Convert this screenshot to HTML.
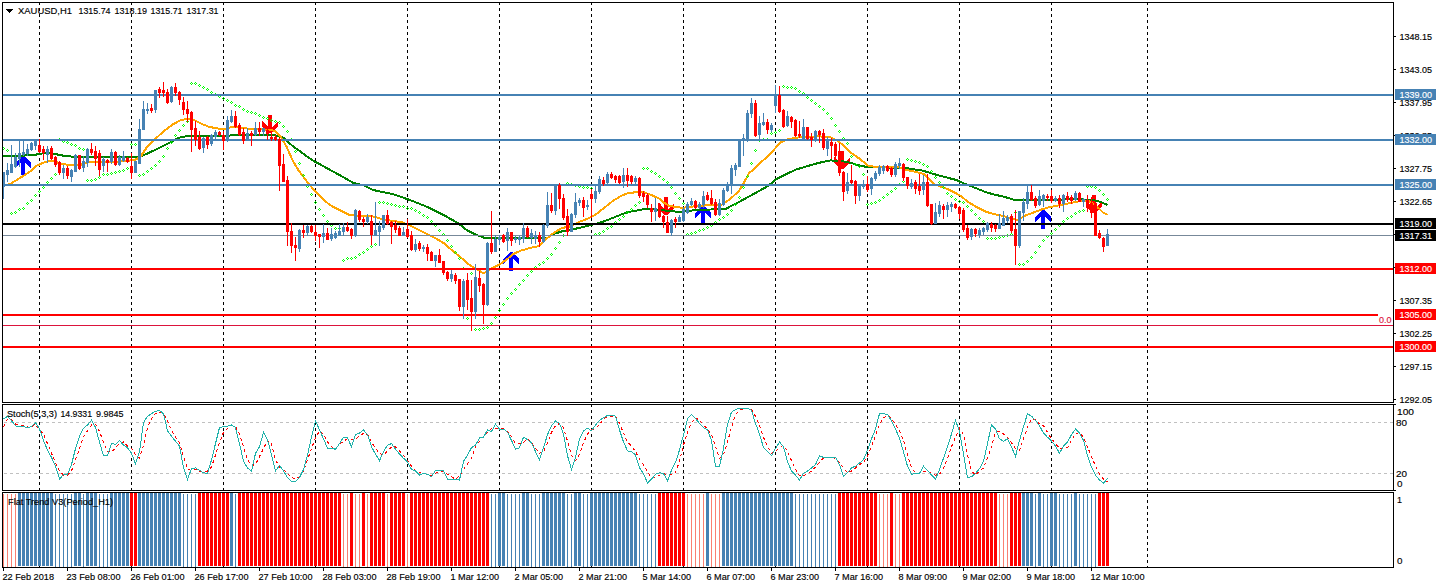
<!DOCTYPE html>
<html><head><meta charset="utf-8"><style>
html,body{margin:0;padding:0;background:#fff;}
svg{display:block;}
text{font-family:"Liberation Sans", sans-serif;}
</style></head><body>
<svg width="1436" height="588" viewBox="0 0 1436 588" shape-rendering="crispEdges">
<rect x="0" y="0" width="1436" height="588" fill="#fff"/>
<path d="M39.5 3v2M39.5 8v3M39.5 14v3M39.5 20v3M39.5 26v3M39.5 32v3M39.5 38v3M39.5 44v3M39.5 50v3M39.5 56v3M39.5 62v3M39.5 68v3M39.5 74v3M39.5 80v3M39.5 86v3M39.5 92v3M39.5 98v3M39.5 104v3M39.5 110v3M39.5 116v3M39.5 122v3M39.5 128v3M39.5 134v3M39.5 140v3M39.5 146v3M39.5 152v3M39.5 158v3M39.5 164v3M39.5 170v3M39.5 176v3M39.5 182v3M39.5 188v3M39.5 194v3M39.5 200v3M39.5 206v3M39.5 212v3M39.5 218v3M39.5 224v3M39.5 230v3M39.5 236v3M39.5 242v3M39.5 248v3M39.5 254v3M39.5 260v3M39.5 266v3M39.5 272v3M39.5 278v3M39.5 284v3M39.5 290v3M39.5 296v3M39.5 302v3M39.5 308v3M39.5 314v3M39.5 320v3M39.5 326v3M39.5 332v3M39.5 338v3M39.5 344v3M39.5 350v3M39.5 356v3M39.5 362v3M39.5 368v3M39.5 374v3M39.5 380v3M39.5 386v3M39.5 392v3M39.5 398v3" stroke="#000" stroke-width="1" fill="none"/>
<path d="M131.5 3v2M131.5 8v3M131.5 14v3M131.5 20v3M131.5 26v3M131.5 32v3M131.5 38v3M131.5 44v3M131.5 50v3M131.5 56v3M131.5 62v3M131.5 68v3M131.5 74v3M131.5 80v3M131.5 86v3M131.5 92v3M131.5 98v3M131.5 104v3M131.5 110v3M131.5 116v3M131.5 122v3M131.5 128v3M131.5 134v3M131.5 140v3M131.5 146v3M131.5 152v3M131.5 158v3M131.5 164v3M131.5 170v3M131.5 176v3M131.5 182v3M131.5 188v3M131.5 194v3M131.5 200v3M131.5 206v3M131.5 212v3M131.5 218v3M131.5 224v3M131.5 230v3M131.5 236v3M131.5 242v3M131.5 248v3M131.5 254v3M131.5 260v3M131.5 266v3M131.5 272v3M131.5 278v3M131.5 284v3M131.5 290v3M131.5 296v3M131.5 302v3M131.5 308v3M131.5 314v3M131.5 320v3M131.5 326v3M131.5 332v3M131.5 338v3M131.5 344v3M131.5 350v3M131.5 356v3M131.5 362v3M131.5 368v3M131.5 374v3M131.5 380v3M131.5 386v3M131.5 392v3M131.5 398v3" stroke="#000" stroke-width="1" fill="none"/>
<path d="M223.5 3v2M223.5 8v3M223.5 14v3M223.5 20v3M223.5 26v3M223.5 32v3M223.5 38v3M223.5 44v3M223.5 50v3M223.5 56v3M223.5 62v3M223.5 68v3M223.5 74v3M223.5 80v3M223.5 86v3M223.5 92v3M223.5 98v3M223.5 104v3M223.5 110v3M223.5 116v3M223.5 122v3M223.5 128v3M223.5 134v3M223.5 140v3M223.5 146v3M223.5 152v3M223.5 158v3M223.5 164v3M223.5 170v3M223.5 176v3M223.5 182v3M223.5 188v3M223.5 194v3M223.5 200v3M223.5 206v3M223.5 212v3M223.5 218v3M223.5 224v3M223.5 230v3M223.5 236v3M223.5 242v3M223.5 248v3M223.5 254v3M223.5 260v3M223.5 266v3M223.5 272v3M223.5 278v3M223.5 284v3M223.5 290v3M223.5 296v3M223.5 302v3M223.5 308v3M223.5 314v3M223.5 320v3M223.5 326v3M223.5 332v3M223.5 338v3M223.5 344v3M223.5 350v3M223.5 356v3M223.5 362v3M223.5 368v3M223.5 374v3M223.5 380v3M223.5 386v3M223.5 392v3M223.5 398v3" stroke="#000" stroke-width="1" fill="none"/>
<path d="M315.5 3v2M315.5 8v3M315.5 14v3M315.5 20v3M315.5 26v3M315.5 32v3M315.5 38v3M315.5 44v3M315.5 50v3M315.5 56v3M315.5 62v3M315.5 68v3M315.5 74v3M315.5 80v3M315.5 86v3M315.5 92v3M315.5 98v3M315.5 104v3M315.5 110v3M315.5 116v3M315.5 122v3M315.5 128v3M315.5 134v3M315.5 140v3M315.5 146v3M315.5 152v3M315.5 158v3M315.5 164v3M315.5 170v3M315.5 176v3M315.5 182v3M315.5 188v3M315.5 194v3M315.5 200v3M315.5 206v3M315.5 212v3M315.5 218v3M315.5 224v3M315.5 230v3M315.5 236v3M315.5 242v3M315.5 248v3M315.5 254v3M315.5 260v3M315.5 266v3M315.5 272v3M315.5 278v3M315.5 284v3M315.5 290v3M315.5 296v3M315.5 302v3M315.5 308v3M315.5 314v3M315.5 320v3M315.5 326v3M315.5 332v3M315.5 338v3M315.5 344v3M315.5 350v3M315.5 356v3M315.5 362v3M315.5 368v3M315.5 374v3M315.5 380v3M315.5 386v3M315.5 392v3M315.5 398v3" stroke="#000" stroke-width="1" fill="none"/>
<path d="M407.5 3v2M407.5 8v3M407.5 14v3M407.5 20v3M407.5 26v3M407.5 32v3M407.5 38v3M407.5 44v3M407.5 50v3M407.5 56v3M407.5 62v3M407.5 68v3M407.5 74v3M407.5 80v3M407.5 86v3M407.5 92v3M407.5 98v3M407.5 104v3M407.5 110v3M407.5 116v3M407.5 122v3M407.5 128v3M407.5 134v3M407.5 140v3M407.5 146v3M407.5 152v3M407.5 158v3M407.5 164v3M407.5 170v3M407.5 176v3M407.5 182v3M407.5 188v3M407.5 194v3M407.5 200v3M407.5 206v3M407.5 212v3M407.5 218v3M407.5 224v3M407.5 230v3M407.5 236v3M407.5 242v3M407.5 248v3M407.5 254v3M407.5 260v3M407.5 266v3M407.5 272v3M407.5 278v3M407.5 284v3M407.5 290v3M407.5 296v3M407.5 302v3M407.5 308v3M407.5 314v3M407.5 320v3M407.5 326v3M407.5 332v3M407.5 338v3M407.5 344v3M407.5 350v3M407.5 356v3M407.5 362v3M407.5 368v3M407.5 374v3M407.5 380v3M407.5 386v3M407.5 392v3M407.5 398v3" stroke="#000" stroke-width="1" fill="none"/>
<path d="M499.5 3v2M499.5 8v3M499.5 14v3M499.5 20v3M499.5 26v3M499.5 32v3M499.5 38v3M499.5 44v3M499.5 50v3M499.5 56v3M499.5 62v3M499.5 68v3M499.5 74v3M499.5 80v3M499.5 86v3M499.5 92v3M499.5 98v3M499.5 104v3M499.5 110v3M499.5 116v3M499.5 122v3M499.5 128v3M499.5 134v3M499.5 140v3M499.5 146v3M499.5 152v3M499.5 158v3M499.5 164v3M499.5 170v3M499.5 176v3M499.5 182v3M499.5 188v3M499.5 194v3M499.5 200v3M499.5 206v3M499.5 212v3M499.5 218v3M499.5 224v3M499.5 230v3M499.5 236v3M499.5 242v3M499.5 248v3M499.5 254v3M499.5 260v3M499.5 266v3M499.5 272v3M499.5 278v3M499.5 284v3M499.5 290v3M499.5 296v3M499.5 302v3M499.5 308v3M499.5 314v3M499.5 320v3M499.5 326v3M499.5 332v3M499.5 338v3M499.5 344v3M499.5 350v3M499.5 356v3M499.5 362v3M499.5 368v3M499.5 374v3M499.5 380v3M499.5 386v3M499.5 392v3M499.5 398v3" stroke="#000" stroke-width="1" fill="none"/>
<path d="M591.5 3v2M591.5 8v3M591.5 14v3M591.5 20v3M591.5 26v3M591.5 32v3M591.5 38v3M591.5 44v3M591.5 50v3M591.5 56v3M591.5 62v3M591.5 68v3M591.5 74v3M591.5 80v3M591.5 86v3M591.5 92v3M591.5 98v3M591.5 104v3M591.5 110v3M591.5 116v3M591.5 122v3M591.5 128v3M591.5 134v3M591.5 140v3M591.5 146v3M591.5 152v3M591.5 158v3M591.5 164v3M591.5 170v3M591.5 176v3M591.5 182v3M591.5 188v3M591.5 194v3M591.5 200v3M591.5 206v3M591.5 212v3M591.5 218v3M591.5 224v3M591.5 230v3M591.5 236v3M591.5 242v3M591.5 248v3M591.5 254v3M591.5 260v3M591.5 266v3M591.5 272v3M591.5 278v3M591.5 284v3M591.5 290v3M591.5 296v3M591.5 302v3M591.5 308v3M591.5 314v3M591.5 320v3M591.5 326v3M591.5 332v3M591.5 338v3M591.5 344v3M591.5 350v3M591.5 356v3M591.5 362v3M591.5 368v3M591.5 374v3M591.5 380v3M591.5 386v3M591.5 392v3M591.5 398v3" stroke="#000" stroke-width="1" fill="none"/>
<path d="M683.5 3v2M683.5 8v3M683.5 14v3M683.5 20v3M683.5 26v3M683.5 32v3M683.5 38v3M683.5 44v3M683.5 50v3M683.5 56v3M683.5 62v3M683.5 68v3M683.5 74v3M683.5 80v3M683.5 86v3M683.5 92v3M683.5 98v3M683.5 104v3M683.5 110v3M683.5 116v3M683.5 122v3M683.5 128v3M683.5 134v3M683.5 140v3M683.5 146v3M683.5 152v3M683.5 158v3M683.5 164v3M683.5 170v3M683.5 176v3M683.5 182v3M683.5 188v3M683.5 194v3M683.5 200v3M683.5 206v3M683.5 212v3M683.5 218v3M683.5 224v3M683.5 230v3M683.5 236v3M683.5 242v3M683.5 248v3M683.5 254v3M683.5 260v3M683.5 266v3M683.5 272v3M683.5 278v3M683.5 284v3M683.5 290v3M683.5 296v3M683.5 302v3M683.5 308v3M683.5 314v3M683.5 320v3M683.5 326v3M683.5 332v3M683.5 338v3M683.5 344v3M683.5 350v3M683.5 356v3M683.5 362v3M683.5 368v3M683.5 374v3M683.5 380v3M683.5 386v3M683.5 392v3M683.5 398v3" stroke="#000" stroke-width="1" fill="none"/>
<path d="M775.5 3v2M775.5 8v3M775.5 14v3M775.5 20v3M775.5 26v3M775.5 32v3M775.5 38v3M775.5 44v3M775.5 50v3M775.5 56v3M775.5 62v3M775.5 68v3M775.5 74v3M775.5 80v3M775.5 86v3M775.5 92v3M775.5 98v3M775.5 104v3M775.5 110v3M775.5 116v3M775.5 122v3M775.5 128v3M775.5 134v3M775.5 140v3M775.5 146v3M775.5 152v3M775.5 158v3M775.5 164v3M775.5 170v3M775.5 176v3M775.5 182v3M775.5 188v3M775.5 194v3M775.5 200v3M775.5 206v3M775.5 212v3M775.5 218v3M775.5 224v3M775.5 230v3M775.5 236v3M775.5 242v3M775.5 248v3M775.5 254v3M775.5 260v3M775.5 266v3M775.5 272v3M775.5 278v3M775.5 284v3M775.5 290v3M775.5 296v3M775.5 302v3M775.5 308v3M775.5 314v3M775.5 320v3M775.5 326v3M775.5 332v3M775.5 338v3M775.5 344v3M775.5 350v3M775.5 356v3M775.5 362v3M775.5 368v3M775.5 374v3M775.5 380v3M775.5 386v3M775.5 392v3M775.5 398v3" stroke="#000" stroke-width="1" fill="none"/>
<path d="M867.5 3v2M867.5 8v3M867.5 14v3M867.5 20v3M867.5 26v3M867.5 32v3M867.5 38v3M867.5 44v3M867.5 50v3M867.5 56v3M867.5 62v3M867.5 68v3M867.5 74v3M867.5 80v3M867.5 86v3M867.5 92v3M867.5 98v3M867.5 104v3M867.5 110v3M867.5 116v3M867.5 122v3M867.5 128v3M867.5 134v3M867.5 140v3M867.5 146v3M867.5 152v3M867.5 158v3M867.5 164v3M867.5 170v3M867.5 176v3M867.5 182v3M867.5 188v3M867.5 194v3M867.5 200v3M867.5 206v3M867.5 212v3M867.5 218v3M867.5 224v3M867.5 230v3M867.5 236v3M867.5 242v3M867.5 248v3M867.5 254v3M867.5 260v3M867.5 266v3M867.5 272v3M867.5 278v3M867.5 284v3M867.5 290v3M867.5 296v3M867.5 302v3M867.5 308v3M867.5 314v3M867.5 320v3M867.5 326v3M867.5 332v3M867.5 338v3M867.5 344v3M867.5 350v3M867.5 356v3M867.5 362v3M867.5 368v3M867.5 374v3M867.5 380v3M867.5 386v3M867.5 392v3M867.5 398v3" stroke="#000" stroke-width="1" fill="none"/>
<path d="M959.5 3v2M959.5 8v3M959.5 14v3M959.5 20v3M959.5 26v3M959.5 32v3M959.5 38v3M959.5 44v3M959.5 50v3M959.5 56v3M959.5 62v3M959.5 68v3M959.5 74v3M959.5 80v3M959.5 86v3M959.5 92v3M959.5 98v3M959.5 104v3M959.5 110v3M959.5 116v3M959.5 122v3M959.5 128v3M959.5 134v3M959.5 140v3M959.5 146v3M959.5 152v3M959.5 158v3M959.5 164v3M959.5 170v3M959.5 176v3M959.5 182v3M959.5 188v3M959.5 194v3M959.5 200v3M959.5 206v3M959.5 212v3M959.5 218v3M959.5 224v3M959.5 230v3M959.5 236v3M959.5 242v3M959.5 248v3M959.5 254v3M959.5 260v3M959.5 266v3M959.5 272v3M959.5 278v3M959.5 284v3M959.5 290v3M959.5 296v3M959.5 302v3M959.5 308v3M959.5 314v3M959.5 320v3M959.5 326v3M959.5 332v3M959.5 338v3M959.5 344v3M959.5 350v3M959.5 356v3M959.5 362v3M959.5 368v3M959.5 374v3M959.5 380v3M959.5 386v3M959.5 392v3M959.5 398v3" stroke="#000" stroke-width="1" fill="none"/>
<path d="M1051.5 3v2M1051.5 8v3M1051.5 14v3M1051.5 20v3M1051.5 26v3M1051.5 32v3M1051.5 38v3M1051.5 44v3M1051.5 50v3M1051.5 56v3M1051.5 62v3M1051.5 68v3M1051.5 74v3M1051.5 80v3M1051.5 86v3M1051.5 92v3M1051.5 98v3M1051.5 104v3M1051.5 110v3M1051.5 116v3M1051.5 122v3M1051.5 128v3M1051.5 134v3M1051.5 140v3M1051.5 146v3M1051.5 152v3M1051.5 158v3M1051.5 164v3M1051.5 170v3M1051.5 176v3M1051.5 182v3M1051.5 188v3M1051.5 194v3M1051.5 200v3M1051.5 206v3M1051.5 212v3M1051.5 218v3M1051.5 224v3M1051.5 230v3M1051.5 236v3M1051.5 242v3M1051.5 248v3M1051.5 254v3M1051.5 260v3M1051.5 266v3M1051.5 272v3M1051.5 278v3M1051.5 284v3M1051.5 290v3M1051.5 296v3M1051.5 302v3M1051.5 308v3M1051.5 314v3M1051.5 320v3M1051.5 326v3M1051.5 332v3M1051.5 338v3M1051.5 344v3M1051.5 350v3M1051.5 356v3M1051.5 362v3M1051.5 368v3M1051.5 374v3M1051.5 380v3M1051.5 386v3M1051.5 392v3M1051.5 398v3" stroke="#000" stroke-width="1" fill="none"/>
<path d="M1147.5 3v2M1147.5 8v3M1147.5 14v3M1147.5 20v3M1147.5 26v3M1147.5 32v3M1147.5 38v3M1147.5 44v3M1147.5 50v3M1147.5 56v3M1147.5 62v3M1147.5 68v3M1147.5 74v3M1147.5 80v3M1147.5 86v3M1147.5 92v3M1147.5 98v3M1147.5 104v3M1147.5 110v3M1147.5 116v3M1147.5 122v3M1147.5 128v3M1147.5 134v3M1147.5 140v3M1147.5 146v3M1147.5 152v3M1147.5 158v3M1147.5 164v3M1147.5 170v3M1147.5 176v3M1147.5 182v3M1147.5 188v3M1147.5 194v3M1147.5 200v3M1147.5 206v3M1147.5 212v3M1147.5 218v3M1147.5 224v3M1147.5 230v3M1147.5 236v3M1147.5 242v3M1147.5 248v3M1147.5 254v3M1147.5 260v3M1147.5 266v3M1147.5 272v3M1147.5 278v3M1147.5 284v3M1147.5 290v3M1147.5 296v3M1147.5 302v3M1147.5 308v3M1147.5 314v3M1147.5 320v3M1147.5 326v3M1147.5 332v3M1147.5 338v3M1147.5 344v3M1147.5 350v3M1147.5 356v3M1147.5 362v3M1147.5 368v3M1147.5 374v3M1147.5 380v3M1147.5 386v3M1147.5 392v3M1147.5 398v3" stroke="#000" stroke-width="1" fill="none"/>
<path d="M39.5 405v2M39.5 410v3M39.5 416v3M39.5 422v3M39.5 428v3M39.5 434v3M39.5 440v3M39.5 446v3M39.5 452v3M39.5 458v3M39.5 464v3M39.5 470v3M39.5 476v3M39.5 482v3M39.5 488v2" stroke="#000" stroke-width="1" fill="none"/>
<path d="M131.5 405v2M131.5 410v3M131.5 416v3M131.5 422v3M131.5 428v3M131.5 434v3M131.5 440v3M131.5 446v3M131.5 452v3M131.5 458v3M131.5 464v3M131.5 470v3M131.5 476v3M131.5 482v3M131.5 488v2" stroke="#000" stroke-width="1" fill="none"/>
<path d="M223.5 405v2M223.5 410v3M223.5 416v3M223.5 422v3M223.5 428v3M223.5 434v3M223.5 440v3M223.5 446v3M223.5 452v3M223.5 458v3M223.5 464v3M223.5 470v3M223.5 476v3M223.5 482v3M223.5 488v2" stroke="#000" stroke-width="1" fill="none"/>
<path d="M315.5 405v2M315.5 410v3M315.5 416v3M315.5 422v3M315.5 428v3M315.5 434v3M315.5 440v3M315.5 446v3M315.5 452v3M315.5 458v3M315.5 464v3M315.5 470v3M315.5 476v3M315.5 482v3M315.5 488v2" stroke="#000" stroke-width="1" fill="none"/>
<path d="M407.5 405v2M407.5 410v3M407.5 416v3M407.5 422v3M407.5 428v3M407.5 434v3M407.5 440v3M407.5 446v3M407.5 452v3M407.5 458v3M407.5 464v3M407.5 470v3M407.5 476v3M407.5 482v3M407.5 488v2" stroke="#000" stroke-width="1" fill="none"/>
<path d="M499.5 405v2M499.5 410v3M499.5 416v3M499.5 422v3M499.5 428v3M499.5 434v3M499.5 440v3M499.5 446v3M499.5 452v3M499.5 458v3M499.5 464v3M499.5 470v3M499.5 476v3M499.5 482v3M499.5 488v2" stroke="#000" stroke-width="1" fill="none"/>
<path d="M591.5 405v2M591.5 410v3M591.5 416v3M591.5 422v3M591.5 428v3M591.5 434v3M591.5 440v3M591.5 446v3M591.5 452v3M591.5 458v3M591.5 464v3M591.5 470v3M591.5 476v3M591.5 482v3M591.5 488v2" stroke="#000" stroke-width="1" fill="none"/>
<path d="M683.5 405v2M683.5 410v3M683.5 416v3M683.5 422v3M683.5 428v3M683.5 434v3M683.5 440v3M683.5 446v3M683.5 452v3M683.5 458v3M683.5 464v3M683.5 470v3M683.5 476v3M683.5 482v3M683.5 488v2" stroke="#000" stroke-width="1" fill="none"/>
<path d="M775.5 405v2M775.5 410v3M775.5 416v3M775.5 422v3M775.5 428v3M775.5 434v3M775.5 440v3M775.5 446v3M775.5 452v3M775.5 458v3M775.5 464v3M775.5 470v3M775.5 476v3M775.5 482v3M775.5 488v2" stroke="#000" stroke-width="1" fill="none"/>
<path d="M867.5 405v2M867.5 410v3M867.5 416v3M867.5 422v3M867.5 428v3M867.5 434v3M867.5 440v3M867.5 446v3M867.5 452v3M867.5 458v3M867.5 464v3M867.5 470v3M867.5 476v3M867.5 482v3M867.5 488v2" stroke="#000" stroke-width="1" fill="none"/>
<path d="M959.5 405v2M959.5 410v3M959.5 416v3M959.5 422v3M959.5 428v3M959.5 434v3M959.5 440v3M959.5 446v3M959.5 452v3M959.5 458v3M959.5 464v3M959.5 470v3M959.5 476v3M959.5 482v3M959.5 488v2" stroke="#000" stroke-width="1" fill="none"/>
<path d="M1051.5 405v2M1051.5 410v3M1051.5 416v3M1051.5 422v3M1051.5 428v3M1051.5 434v3M1051.5 440v3M1051.5 446v3M1051.5 452v3M1051.5 458v3M1051.5 464v3M1051.5 470v3M1051.5 476v3M1051.5 482v3M1051.5 488v2" stroke="#000" stroke-width="1" fill="none"/>
<path d="M1147.5 405v2M1147.5 410v3M1147.5 416v3M1147.5 422v3M1147.5 428v3M1147.5 434v3M1147.5 440v3M1147.5 446v3M1147.5 452v3M1147.5 458v3M1147.5 464v3M1147.5 470v3M1147.5 476v3M1147.5 482v3M1147.5 488v2" stroke="#000" stroke-width="1" fill="none"/>
<path d="M39.5 494v3M39.5 500v3M39.5 506v3M39.5 512v3M39.5 518v3M39.5 524v3M39.5 530v3M39.5 536v3M39.5 542v3M39.5 548v3M39.5 554v3M39.5 560v3M39.5 566v1" stroke="#000" stroke-width="1" fill="none"/>
<path d="M131.5 494v3M131.5 500v3M131.5 506v3M131.5 512v3M131.5 518v3M131.5 524v3M131.5 530v3M131.5 536v3M131.5 542v3M131.5 548v3M131.5 554v3M131.5 560v3M131.5 566v1" stroke="#000" stroke-width="1" fill="none"/>
<path d="M223.5 494v3M223.5 500v3M223.5 506v3M223.5 512v3M223.5 518v3M223.5 524v3M223.5 530v3M223.5 536v3M223.5 542v3M223.5 548v3M223.5 554v3M223.5 560v3M223.5 566v1" stroke="#000" stroke-width="1" fill="none"/>
<path d="M315.5 494v3M315.5 500v3M315.5 506v3M315.5 512v3M315.5 518v3M315.5 524v3M315.5 530v3M315.5 536v3M315.5 542v3M315.5 548v3M315.5 554v3M315.5 560v3M315.5 566v1" stroke="#000" stroke-width="1" fill="none"/>
<path d="M407.5 494v3M407.5 500v3M407.5 506v3M407.5 512v3M407.5 518v3M407.5 524v3M407.5 530v3M407.5 536v3M407.5 542v3M407.5 548v3M407.5 554v3M407.5 560v3M407.5 566v1" stroke="#000" stroke-width="1" fill="none"/>
<path d="M499.5 494v3M499.5 500v3M499.5 506v3M499.5 512v3M499.5 518v3M499.5 524v3M499.5 530v3M499.5 536v3M499.5 542v3M499.5 548v3M499.5 554v3M499.5 560v3M499.5 566v1" stroke="#000" stroke-width="1" fill="none"/>
<path d="M591.5 494v3M591.5 500v3M591.5 506v3M591.5 512v3M591.5 518v3M591.5 524v3M591.5 530v3M591.5 536v3M591.5 542v3M591.5 548v3M591.5 554v3M591.5 560v3M591.5 566v1" stroke="#000" stroke-width="1" fill="none"/>
<path d="M683.5 494v3M683.5 500v3M683.5 506v3M683.5 512v3M683.5 518v3M683.5 524v3M683.5 530v3M683.5 536v3M683.5 542v3M683.5 548v3M683.5 554v3M683.5 560v3M683.5 566v1" stroke="#000" stroke-width="1" fill="none"/>
<path d="M775.5 494v3M775.5 500v3M775.5 506v3M775.5 512v3M775.5 518v3M775.5 524v3M775.5 530v3M775.5 536v3M775.5 542v3M775.5 548v3M775.5 554v3M775.5 560v3M775.5 566v1" stroke="#000" stroke-width="1" fill="none"/>
<path d="M867.5 494v3M867.5 500v3M867.5 506v3M867.5 512v3M867.5 518v3M867.5 524v3M867.5 530v3M867.5 536v3M867.5 542v3M867.5 548v3M867.5 554v3M867.5 560v3M867.5 566v1" stroke="#000" stroke-width="1" fill="none"/>
<path d="M959.5 494v3M959.5 500v3M959.5 506v3M959.5 512v3M959.5 518v3M959.5 524v3M959.5 530v3M959.5 536v3M959.5 542v3M959.5 548v3M959.5 554v3M959.5 560v3M959.5 566v1" stroke="#000" stroke-width="1" fill="none"/>
<path d="M1051.5 494v3M1051.5 500v3M1051.5 506v3M1051.5 512v3M1051.5 518v3M1051.5 524v3M1051.5 530v3M1051.5 536v3M1051.5 542v3M1051.5 548v3M1051.5 554v3M1051.5 560v3M1051.5 566v1" stroke="#000" stroke-width="1" fill="none"/>
<path d="M1147.5 494v3M1147.5 500v3M1147.5 506v3M1147.5 512v3M1147.5 518v3M1147.5 524v3M1147.5 530v3M1147.5 536v3M1147.5 542v3M1147.5 548v3M1147.5 554v3M1147.5 560v3M1147.5 566v1" stroke="#000" stroke-width="1" fill="none"/>
<polygon points="22.0,156.0 24.0,156.0 31.0,163.0 31.0,168.5 25.0,162.5 25.0,175.0 21.0,175.0 21.0,162.5 15.0,168.5 15.0,163.0" fill="#0000FF"/>
<polygon points="510.0,252.0 512.0,252.0 519.0,259.0 519.0,264.5 513.0,258.5 513.0,271.0 509.0,271.0 509.0,258.5 503.0,264.5 503.0,259.0" fill="#0000FF"/>
<polygon points="702.0,206.0 704.0,206.0 711.0,213.0 711.0,218.5 705.0,212.5 705.0,225.0 701.0,225.0 701.0,212.5 695.0,218.5 695.0,213.0" fill="#0000FF"/>
<polygon points="1042.0,210.0 1044.0,210.0 1051.0,217.0 1051.0,222.5 1045.0,216.5 1045.0,229.0 1041.0,229.0 1041.0,216.5 1035.0,222.5 1035.0,217.0" fill="#0000FF"/>
<polygon points="268.0,115.0 272.0,115.0 272.0,127.0 278.0,121.0 278.0,126.5 271.0,133.0 269.0,133.0 262.0,126.5 262.0,121.0 268.0,127.0" fill="#FF0000"/>
<polygon points="664.0,197.0 668.0,197.0 668.0,209.0 674.0,203.0 674.0,208.5 667.0,215.0 665.0,215.0 658.0,208.5 658.0,203.0 664.0,209.0" fill="#FF0000"/>
<polygon points="840.0,151.0 844.0,151.0 844.0,163.0 850.0,157.0 850.0,162.5 843.0,169.0 841.0,169.0 834.0,162.5 834.0,157.0 840.0,163.0" fill="#FF0000"/>
<polygon points="1092.0,195.0 1096.0,195.0 1096.0,207.0 1102.0,201.0 1102.0,206.5 1095.0,213.0 1093.0,213.0 1086.0,206.5 1086.0,201.0 1092.0,207.0" fill="#FF0000"/>
<polyline points="3.0,155.6 15.0,156.0 35.0,155.0 39.0,153.7 50.0,153.0 63.0,155.6 75.0,157.0 100.0,157.0 140.0,157.0 155.5,149.7 170.8,142.0 179.0,137.8 187.8,136.0 196.0,136.5 226.0,136.0 236.0,134.8 260.0,134.8 275.3,135.3 283.8,137.8 292.0,145.5 312.0,160.0 323.0,166.0 340.0,175.3 353.6,183.0 363.8,185.5 373.0,190.0 393.5,194.3 410.5,200.2 427.5,207.0 444.5,215.5 458.0,223.2 466.7,230.0 475.2,234.3 483.7,237.6 548.0,237.6 553.5,234.0 562.0,231.4 579.0,228.0 596.0,223.8 604.5,221.2 613.0,217.8 621.5,214.4 628.0,211.9 633.5,211.2 642.0,209.5 647.0,208.7 655.6,209.5 664.0,210.4 676.0,211.6 682.8,211.6 693.0,210.4 705.0,209.7 725.4,209.0 739.0,202.0 756.0,192.7 768.0,186.0 776.4,179.0 788.0,173.2 796.5,169.4 805.0,166.8 813.5,164.3 820.0,162.6 830.6,160.4 842.5,161.2 851.0,163.0 859.5,165.5 868.0,167.2 876.5,167.2 905.5,168.0 922.5,170.6 939.5,175.7 956.5,180.0 960.0,181.8 968.5,185.2 977.0,188.6 985.5,192.0 994.0,194.6 1002.5,196.3 1011.0,198.8 1014.4,200.2 1028.0,200.2 1040.0,199.8 1057.0,199.8 1074.0,199.0 1087.6,199.8 1096.0,200.6 1101.2,202.3 1107.7,204.9" fill="none" stroke="#008000" stroke-width="2" stroke-linejoin="round"/>
<polyline points="3.0,186.0 10.0,184.0 20.0,178.0 30.0,171.6 36.0,166.0 45.0,162.0 50.0,161.0 55.0,161.6 62.0,164.0 70.0,165.0 80.0,165.0 90.0,162.0 100.0,161.6 120.0,161.6 135.0,160.0 141.0,156.0 147.0,147.0 155.5,138.7 164.0,131.0 172.5,124.6 181.0,120.0 187.8,118.8 196.0,120.8 200.5,123.4 209.0,126.8 217.5,128.5 226.0,128.5 232.8,126.8 243.0,128.0 251.5,129.0 260.0,129.3 270.0,129.8 275.3,131.0 280.4,136.0 286.4,146.3 292.4,160.0 298.4,170.2 306.0,180.4 314.5,190.6 323.0,199.0 329.8,205.0 340.0,210.2 350.2,215.3 360.4,215.8 372.0,216.2 385.0,219.8 402.0,222.3 410.5,225.7 419.0,230.0 427.5,234.2 436.0,238.5 444.5,243.6 453.0,251.2 461.5,258.0 468.0,264.0 473.5,267.4 483.7,273.4 490.5,269.0 499.0,264.9 507.5,258.9 512.9,254.2 521.0,250.6 531.2,247.6 539.4,246.0 545.0,240.0 553.5,233.0 562.0,228.0 570.5,226.3 579.0,222.0 587.5,218.7 596.0,214.4 604.5,207.6 613.0,200.8 621.5,195.7 628.0,193.2 633.5,192.5 642.0,191.7 650.5,194.6 659.0,198.5 664.0,202.7 669.2,206.0 676.0,207.0 682.8,207.8 689.6,207.0 696.4,206.0 705.0,205.5 722.0,204.6 730.5,198.7 739.0,191.0 744.0,182.5 749.2,173.0 755.7,167.5 762.5,160.9 771.0,153.2 776.0,147.3 781.2,142.2 788.0,139.3 796.5,137.6 805.0,137.0 813.5,136.6 820.0,136.4 830.6,137.4 837.4,140.8 844.2,146.0 851.0,152.7 859.5,158.7 868.0,165.5 876.5,167.2 885.0,167.2 897.0,166.9 905.5,169.8 914.0,171.5 924.2,174.0 929.3,179.1 934.4,184.2 948.0,189.3 956.5,193.6 960.0,195.4 968.5,202.2 977.0,207.3 985.5,211.6 994.0,214.1 1002.5,215.8 1011.0,218.4 1017.8,220.0 1024.6,215.8 1031.4,213.3 1040.0,210.0 1048.5,207.4 1057.0,205.7 1065.5,204.0 1074.0,202.3 1082.5,200.6 1087.6,200.6 1092.7,203.2 1097.8,207.4 1103.0,212.5 1107.7,215.0" fill="none" stroke="#FFA500" stroke-width="2" stroke-linejoin="round"/>
<path d="M3 147h1v1h-1zM2 148h1v1h-1zM4 148h1v1h-1zM3 149h1v1h-1zM7 149h1v1h-1zM6 150h1v1h-1zM8 150h1v1h-1zM7 151h1v1h-1zM11 212h1v1h-1zM10 213h1v1h-1zM12 213h1v1h-1zM11 214h1v1h-1zM15 211h1v1h-1zM14 212h1v1h-1zM16 212h1v1h-1zM15 213h1v1h-1zM19 208h1v1h-1zM18 209h1v1h-1zM20 209h1v1h-1zM19 210h1v1h-1zM23 207h1v1h-1zM22 208h1v1h-1zM24 208h1v1h-1zM23 209h1v1h-1zM27 202h1v1h-1zM26 203h1v1h-1zM28 203h1v1h-1zM27 204h1v1h-1zM31 199h1v1h-1zM30 200h1v1h-1zM32 200h1v1h-1zM31 201h1v1h-1zM35 194h1v1h-1zM34 195h1v1h-1zM36 195h1v1h-1zM35 196h1v1h-1zM39 190h1v1h-1zM38 191h1v1h-1zM40 191h1v1h-1zM39 192h1v1h-1zM43 186h1v1h-1zM42 187h1v1h-1zM44 187h1v1h-1zM43 188h1v1h-1zM47 181h1v1h-1zM46 182h1v1h-1zM48 182h1v1h-1zM47 183h1v1h-1zM51 177h1v1h-1zM50 178h1v1h-1zM52 178h1v1h-1zM51 179h1v1h-1zM55 173h1v1h-1zM54 174h1v1h-1zM56 174h1v1h-1zM55 175h1v1h-1zM59 138h1v1h-1zM58 139h1v1h-1zM60 139h1v1h-1zM59 140h1v1h-1zM63 140h1v1h-1zM62 141h1v1h-1zM64 141h1v1h-1zM63 142h1v1h-1zM67 141h1v1h-1zM66 142h1v1h-1zM68 142h1v1h-1zM67 143h1v1h-1zM71 143h1v1h-1zM70 144h1v1h-1zM72 144h1v1h-1zM71 145h1v1h-1zM75 144h1v1h-1zM74 145h1v1h-1zM76 145h1v1h-1zM75 146h1v1h-1zM79 147h1v1h-1zM78 148h1v1h-1zM80 148h1v1h-1zM79 149h1v1h-1zM83 148h1v1h-1zM82 149h1v1h-1zM84 149h1v1h-1zM83 150h1v1h-1zM87 179h1v1h-1zM86 180h1v1h-1zM88 180h1v1h-1zM87 181h1v1h-1zM91 179h1v1h-1zM90 180h1v1h-1zM92 180h1v1h-1zM91 181h1v1h-1zM95 178h1v1h-1zM94 179h1v1h-1zM96 179h1v1h-1zM95 180h1v1h-1zM99 176h1v1h-1zM98 177h1v1h-1zM100 177h1v1h-1zM99 178h1v1h-1zM103 173h1v1h-1zM102 174h1v1h-1zM104 174h1v1h-1zM103 175h1v1h-1zM107 173h1v1h-1zM106 174h1v1h-1zM108 174h1v1h-1zM107 175h1v1h-1zM111 172h1v1h-1zM110 173h1v1h-1zM112 173h1v1h-1zM111 174h1v1h-1zM115 171h1v1h-1zM114 172h1v1h-1zM116 172h1v1h-1zM115 173h1v1h-1zM119 170h1v1h-1zM118 171h1v1h-1zM120 171h1v1h-1zM119 172h1v1h-1zM123 169h1v1h-1zM122 170h1v1h-1zM124 170h1v1h-1zM123 171h1v1h-1zM127 167h1v1h-1zM126 168h1v1h-1zM128 168h1v1h-1zM127 169h1v1h-1zM131 143h1v1h-1zM130 144h1v1h-1zM132 144h1v1h-1zM131 145h1v1h-1zM135 143h1v1h-1zM134 144h1v1h-1zM136 144h1v1h-1zM135 145h1v1h-1zM139 174h1v1h-1zM138 175h1v1h-1zM140 175h1v1h-1zM139 176h1v1h-1zM143 173h1v1h-1zM142 174h1v1h-1zM144 174h1v1h-1zM143 175h1v1h-1zM147 170h1v1h-1zM146 171h1v1h-1zM148 171h1v1h-1zM147 172h1v1h-1zM151 167h1v1h-1zM150 168h1v1h-1zM152 168h1v1h-1zM151 169h1v1h-1zM155 164h1v1h-1zM154 165h1v1h-1zM156 165h1v1h-1zM155 166h1v1h-1zM159 160h1v1h-1zM158 161h1v1h-1zM160 161h1v1h-1zM159 162h1v1h-1zM163 155h1v1h-1zM162 156h1v1h-1zM164 156h1v1h-1zM163 157h1v1h-1zM167 147h1v1h-1zM166 148h1v1h-1zM168 148h1v1h-1zM167 149h1v1h-1zM171 141h1v1h-1zM170 142h1v1h-1zM172 142h1v1h-1zM171 143h1v1h-1zM175 134h1v1h-1zM174 135h1v1h-1zM176 135h1v1h-1zM175 136h1v1h-1zM179 129h1v1h-1zM178 130h1v1h-1zM180 130h1v1h-1zM179 131h1v1h-1zM183 124h1v1h-1zM182 125h1v1h-1zM184 125h1v1h-1zM183 126h1v1h-1zM187 120h1v1h-1zM186 121h1v1h-1zM188 121h1v1h-1zM187 122h1v1h-1zM191 82h1v1h-1zM190 83h1v1h-1zM192 83h1v1h-1zM191 84h1v1h-1zM195 82h1v1h-1zM194 83h1v1h-1zM196 83h1v1h-1zM195 84h1v1h-1zM199 84h1v1h-1zM198 85h1v1h-1zM200 85h1v1h-1zM199 86h1v1h-1zM203 86h1v1h-1zM202 87h1v1h-1zM204 87h1v1h-1zM203 88h1v1h-1zM207 88h1v1h-1zM206 89h1v1h-1zM208 89h1v1h-1zM207 90h1v1h-1zM211 91h1v1h-1zM210 92h1v1h-1zM212 92h1v1h-1zM211 93h1v1h-1zM215 93h1v1h-1zM214 94h1v1h-1zM216 94h1v1h-1zM215 95h1v1h-1zM219 95h1v1h-1zM218 96h1v1h-1zM220 96h1v1h-1zM219 97h1v1h-1zM223 97h1v1h-1zM222 98h1v1h-1zM224 98h1v1h-1zM223 99h1v1h-1zM227 99h1v1h-1zM226 100h1v1h-1zM228 100h1v1h-1zM227 101h1v1h-1zM231 101h1v1h-1zM230 102h1v1h-1zM232 102h1v1h-1zM231 103h1v1h-1zM235 104h1v1h-1zM234 105h1v1h-1zM236 105h1v1h-1zM235 106h1v1h-1zM239 105h1v1h-1zM238 106h1v1h-1zM240 106h1v1h-1zM239 107h1v1h-1zM243 108h1v1h-1zM242 109h1v1h-1zM244 109h1v1h-1zM243 110h1v1h-1zM247 110h1v1h-1zM246 111h1v1h-1zM248 111h1v1h-1zM247 112h1v1h-1zM251 111h1v1h-1zM250 112h1v1h-1zM252 112h1v1h-1zM251 113h1v1h-1zM255 112h1v1h-1zM254 113h1v1h-1zM256 113h1v1h-1zM255 114h1v1h-1zM259 114h1v1h-1zM258 115h1v1h-1zM260 115h1v1h-1zM259 116h1v1h-1zM263 116h1v1h-1zM262 117h1v1h-1zM264 117h1v1h-1zM263 118h1v1h-1zM267 117h1v1h-1zM266 118h1v1h-1zM268 118h1v1h-1zM267 119h1v1h-1zM271 119h1v1h-1zM270 120h1v1h-1zM272 120h1v1h-1zM271 121h1v1h-1zM275 120h1v1h-1zM274 121h1v1h-1zM276 121h1v1h-1zM275 122h1v1h-1zM279 121h1v1h-1zM278 122h1v1h-1zM280 122h1v1h-1zM279 123h1v1h-1zM283 125h1v1h-1zM282 126h1v1h-1zM284 126h1v1h-1zM283 127h1v1h-1zM287 130h1v1h-1zM286 131h1v1h-1zM288 131h1v1h-1zM287 132h1v1h-1zM291 138h1v1h-1zM290 139h1v1h-1zM292 139h1v1h-1zM291 140h1v1h-1zM295 150h1v1h-1zM294 151h1v1h-1zM296 151h1v1h-1zM295 152h1v1h-1zM299 162h1v1h-1zM298 163h1v1h-1zM300 163h1v1h-1zM299 164h1v1h-1zM303 174h1v1h-1zM302 175h1v1h-1zM304 175h1v1h-1zM303 176h1v1h-1zM307 185h1v1h-1zM306 186h1v1h-1zM308 186h1v1h-1zM307 187h1v1h-1zM311 193h1v1h-1zM310 194h1v1h-1zM312 194h1v1h-1zM311 195h1v1h-1zM315 201h1v1h-1zM314 202h1v1h-1zM316 202h1v1h-1zM315 203h1v1h-1zM319 208h1v1h-1zM318 209h1v1h-1zM320 209h1v1h-1zM319 210h1v1h-1zM323 214h1v1h-1zM322 215h1v1h-1zM324 215h1v1h-1zM323 216h1v1h-1zM327 220h1v1h-1zM326 221h1v1h-1zM328 221h1v1h-1zM327 222h1v1h-1zM331 224h1v1h-1zM330 225h1v1h-1zM332 225h1v1h-1zM331 226h1v1h-1zM335 227h1v1h-1zM334 228h1v1h-1zM336 228h1v1h-1zM335 229h1v1h-1zM339 227h1v1h-1zM338 228h1v1h-1zM340 228h1v1h-1zM339 229h1v1h-1zM343 259h1v1h-1zM342 260h1v1h-1zM344 260h1v1h-1zM343 261h1v1h-1zM347 257h1v1h-1zM346 258h1v1h-1zM348 258h1v1h-1zM347 259h1v1h-1zM351 257h1v1h-1zM350 258h1v1h-1zM352 258h1v1h-1zM351 259h1v1h-1zM355 256h1v1h-1zM354 257h1v1h-1zM356 257h1v1h-1zM355 258h1v1h-1zM359 253h1v1h-1zM358 254h1v1h-1zM360 254h1v1h-1zM359 255h1v1h-1zM363 251h1v1h-1zM362 252h1v1h-1zM364 252h1v1h-1zM363 253h1v1h-1zM367 248h1v1h-1zM366 249h1v1h-1zM368 249h1v1h-1zM367 250h1v1h-1zM371 245h1v1h-1zM370 246h1v1h-1zM372 246h1v1h-1zM371 247h1v1h-1zM375 243h1v1h-1zM374 244h1v1h-1zM376 244h1v1h-1zM375 245h1v1h-1zM379 201h1v1h-1zM378 202h1v1h-1zM380 202h1v1h-1zM379 203h1v1h-1zM383 201h1v1h-1zM382 202h1v1h-1zM384 202h1v1h-1zM383 203h1v1h-1zM387 202h1v1h-1zM386 203h1v1h-1zM388 203h1v1h-1zM387 204h1v1h-1zM391 203h1v1h-1zM390 204h1v1h-1zM392 204h1v1h-1zM391 205h1v1h-1zM395 204h1v1h-1zM394 205h1v1h-1zM396 205h1v1h-1zM395 206h1v1h-1zM399 205h1v1h-1zM398 206h1v1h-1zM400 206h1v1h-1zM399 207h1v1h-1zM403 205h1v1h-1zM402 206h1v1h-1zM404 206h1v1h-1zM403 207h1v1h-1zM407 207h1v1h-1zM406 208h1v1h-1zM408 208h1v1h-1zM407 209h1v1h-1zM411 207h1v1h-1zM410 208h1v1h-1zM412 208h1v1h-1zM411 209h1v1h-1zM415 209h1v1h-1zM414 210h1v1h-1zM416 210h1v1h-1zM415 211h1v1h-1zM419 211h1v1h-1zM418 212h1v1h-1zM420 212h1v1h-1zM419 213h1v1h-1zM423 214h1v1h-1zM422 215h1v1h-1zM424 215h1v1h-1zM423 216h1v1h-1zM427 216h1v1h-1zM426 217h1v1h-1zM428 217h1v1h-1zM427 218h1v1h-1zM431 220h1v1h-1zM430 221h1v1h-1zM432 221h1v1h-1zM431 222h1v1h-1zM435 224h1v1h-1zM434 225h1v1h-1zM436 225h1v1h-1zM435 226h1v1h-1zM439 229h1v1h-1zM438 230h1v1h-1zM440 230h1v1h-1zM439 231h1v1h-1zM443 233h1v1h-1zM442 234h1v1h-1zM444 234h1v1h-1zM443 235h1v1h-1zM447 239h1v1h-1zM446 240h1v1h-1zM448 240h1v1h-1zM447 241h1v1h-1zM451 245h1v1h-1zM450 246h1v1h-1zM452 246h1v1h-1zM451 247h1v1h-1zM455 251h1v1h-1zM454 252h1v1h-1zM456 252h1v1h-1zM455 253h1v1h-1zM459 257h1v1h-1zM458 258h1v1h-1zM460 258h1v1h-1zM459 259h1v1h-1zM463 267h1v1h-1zM462 268h1v1h-1zM464 268h1v1h-1zM463 269h1v1h-1zM467 317h1v1h-1zM466 318h1v1h-1zM468 318h1v1h-1zM467 319h1v1h-1zM471 272h1v1h-1zM470 273h1v1h-1zM472 273h1v1h-1zM471 274h1v1h-1zM475 328h1v1h-1zM474 329h1v1h-1zM476 329h1v1h-1zM475 330h1v1h-1zM479 328h1v1h-1zM478 329h1v1h-1zM480 329h1v1h-1zM479 330h1v1h-1zM483 327h1v1h-1zM482 328h1v1h-1zM484 328h1v1h-1zM483 329h1v1h-1zM487 326h1v1h-1zM486 327h1v1h-1zM488 327h1v1h-1zM487 328h1v1h-1zM491 322h1v1h-1zM490 323h1v1h-1zM492 323h1v1h-1zM491 324h1v1h-1zM495 316h1v1h-1zM494 317h1v1h-1zM496 317h1v1h-1zM495 318h1v1h-1zM499 309h1v1h-1zM498 310h1v1h-1zM500 310h1v1h-1zM499 311h1v1h-1zM503 303h1v1h-1zM502 304h1v1h-1zM504 304h1v1h-1zM503 305h1v1h-1zM507 297h1v1h-1zM506 298h1v1h-1zM508 298h1v1h-1zM507 299h1v1h-1zM511 292h1v1h-1zM510 293h1v1h-1zM512 293h1v1h-1zM511 294h1v1h-1zM515 288h1v1h-1zM514 289h1v1h-1zM516 289h1v1h-1zM515 290h1v1h-1zM519 283h1v1h-1zM518 284h1v1h-1zM520 284h1v1h-1zM519 285h1v1h-1zM523 279h1v1h-1zM522 280h1v1h-1zM524 280h1v1h-1zM523 281h1v1h-1zM527 274h1v1h-1zM526 275h1v1h-1zM528 275h1v1h-1zM527 276h1v1h-1zM531 270h1v1h-1zM530 271h1v1h-1zM532 271h1v1h-1zM531 272h1v1h-1zM535 266h1v1h-1zM534 267h1v1h-1zM536 267h1v1h-1zM535 268h1v1h-1zM539 263h1v1h-1zM538 264h1v1h-1zM540 264h1v1h-1zM539 265h1v1h-1zM543 261h1v1h-1zM542 262h1v1h-1zM544 262h1v1h-1zM543 263h1v1h-1zM547 257h1v1h-1zM546 258h1v1h-1zM548 258h1v1h-1zM547 259h1v1h-1zM551 253h1v1h-1zM550 254h1v1h-1zM552 254h1v1h-1zM551 255h1v1h-1zM555 247h1v1h-1zM554 248h1v1h-1zM556 248h1v1h-1zM555 249h1v1h-1zM559 241h1v1h-1zM558 242h1v1h-1zM560 242h1v1h-1zM559 243h1v1h-1zM563 234h1v1h-1zM562 235h1v1h-1zM564 235h1v1h-1zM563 236h1v1h-1zM567 182h1v1h-1zM566 183h1v1h-1zM568 183h1v1h-1zM567 184h1v1h-1zM571 183h1v1h-1zM570 184h1v1h-1zM572 184h1v1h-1zM571 185h1v1h-1zM575 184h1v1h-1zM574 185h1v1h-1zM576 185h1v1h-1zM575 186h1v1h-1zM579 185h1v1h-1zM578 186h1v1h-1zM580 186h1v1h-1zM579 187h1v1h-1zM583 186h1v1h-1zM582 187h1v1h-1zM584 187h1v1h-1zM583 188h1v1h-1zM587 186h1v1h-1zM586 187h1v1h-1zM588 187h1v1h-1zM587 188h1v1h-1zM591 187h1v1h-1zM590 188h1v1h-1zM592 188h1v1h-1zM591 189h1v1h-1zM595 233h1v1h-1zM594 234h1v1h-1zM596 234h1v1h-1zM595 235h1v1h-1zM599 232h1v1h-1zM598 233h1v1h-1zM600 233h1v1h-1zM599 234h1v1h-1zM603 230h1v1h-1zM602 231h1v1h-1zM604 231h1v1h-1zM603 232h1v1h-1zM607 227h1v1h-1zM606 228h1v1h-1zM608 228h1v1h-1zM607 229h1v1h-1zM611 225h1v1h-1zM610 226h1v1h-1zM612 226h1v1h-1zM611 227h1v1h-1zM615 221h1v1h-1zM614 222h1v1h-1zM616 222h1v1h-1zM615 223h1v1h-1zM619 218h1v1h-1zM618 219h1v1h-1zM620 219h1v1h-1zM619 220h1v1h-1zM623 215h1v1h-1zM622 216h1v1h-1zM624 216h1v1h-1zM623 217h1v1h-1zM627 211h1v1h-1zM626 212h1v1h-1zM628 212h1v1h-1zM627 213h1v1h-1zM631 208h1v1h-1zM630 209h1v1h-1zM632 209h1v1h-1zM631 210h1v1h-1zM635 204h1v1h-1zM634 205h1v1h-1zM636 205h1v1h-1zM635 206h1v1h-1zM639 201h1v1h-1zM638 202h1v1h-1zM640 202h1v1h-1zM639 203h1v1h-1zM643 167h1v1h-1zM642 168h1v1h-1zM644 168h1v1h-1zM643 169h1v1h-1zM647 167h1v1h-1zM646 168h1v1h-1zM648 168h1v1h-1zM647 169h1v1h-1zM651 170h1v1h-1zM650 171h1v1h-1zM652 171h1v1h-1zM651 172h1v1h-1zM655 172h1v1h-1zM654 173h1v1h-1zM656 173h1v1h-1zM655 174h1v1h-1zM659 175h1v1h-1zM658 176h1v1h-1zM660 176h1v1h-1zM659 177h1v1h-1zM663 178h1v1h-1zM662 179h1v1h-1zM664 179h1v1h-1zM663 180h1v1h-1zM667 181h1v1h-1zM666 182h1v1h-1zM668 182h1v1h-1zM667 183h1v1h-1zM671 186h1v1h-1zM670 187h1v1h-1zM672 187h1v1h-1zM671 188h1v1h-1zM675 192h1v1h-1zM674 193h1v1h-1zM676 193h1v1h-1zM675 194h1v1h-1zM679 197h1v1h-1zM678 198h1v1h-1zM680 198h1v1h-1zM679 199h1v1h-1zM683 202h1v1h-1zM682 203h1v1h-1zM684 203h1v1h-1zM683 204h1v1h-1zM687 233h1v1h-1zM686 234h1v1h-1zM688 234h1v1h-1zM687 235h1v1h-1zM691 232h1v1h-1zM690 233h1v1h-1zM692 233h1v1h-1zM691 234h1v1h-1zM695 231h1v1h-1zM694 232h1v1h-1zM696 232h1v1h-1zM695 233h1v1h-1zM699 229h1v1h-1zM698 230h1v1h-1zM700 230h1v1h-1zM699 231h1v1h-1zM703 228h1v1h-1zM702 229h1v1h-1zM704 229h1v1h-1zM703 230h1v1h-1zM707 226h1v1h-1zM706 227h1v1h-1zM708 227h1v1h-1zM707 228h1v1h-1zM711 224h1v1h-1zM710 225h1v1h-1zM712 225h1v1h-1zM711 226h1v1h-1zM715 221h1v1h-1zM714 222h1v1h-1zM716 222h1v1h-1zM715 223h1v1h-1zM719 218h1v1h-1zM718 219h1v1h-1zM720 219h1v1h-1zM719 220h1v1h-1zM723 216h1v1h-1zM722 217h1v1h-1zM724 217h1v1h-1zM723 218h1v1h-1zM727 213h1v1h-1zM726 214h1v1h-1zM728 214h1v1h-1zM727 215h1v1h-1zM731 209h1v1h-1zM730 210h1v1h-1zM732 210h1v1h-1zM731 211h1v1h-1zM735 203h1v1h-1zM734 204h1v1h-1zM736 204h1v1h-1zM735 205h1v1h-1zM739 196h1v1h-1zM738 197h1v1h-1zM740 197h1v1h-1zM739 198h1v1h-1zM743 186h1v1h-1zM742 187h1v1h-1zM744 187h1v1h-1zM743 188h1v1h-1zM747 175h1v1h-1zM746 176h1v1h-1zM748 176h1v1h-1zM747 177h1v1h-1zM751 162h1v1h-1zM750 163h1v1h-1zM752 163h1v1h-1zM751 164h1v1h-1zM755 149h1v1h-1zM754 150h1v1h-1zM756 150h1v1h-1zM755 151h1v1h-1zM759 139h1v1h-1zM758 140h1v1h-1zM760 140h1v1h-1zM759 141h1v1h-1zM763 138h1v1h-1zM762 139h1v1h-1zM764 139h1v1h-1zM763 140h1v1h-1zM767 138h1v1h-1zM766 139h1v1h-1zM768 139h1v1h-1zM767 140h1v1h-1zM771 132h1v1h-1zM770 133h1v1h-1zM772 133h1v1h-1zM771 134h1v1h-1zM775 131h1v1h-1zM774 132h1v1h-1zM776 132h1v1h-1zM775 133h1v1h-1zM779 129h1v1h-1zM778 130h1v1h-1zM780 130h1v1h-1zM779 131h1v1h-1zM783 85h1v1h-1zM782 86h1v1h-1zM784 86h1v1h-1zM783 87h1v1h-1zM787 86h1v1h-1zM786 87h1v1h-1zM788 87h1v1h-1zM787 88h1v1h-1zM791 86h1v1h-1zM790 87h1v1h-1zM792 87h1v1h-1zM791 88h1v1h-1zM795 87h1v1h-1zM794 88h1v1h-1zM796 88h1v1h-1zM795 89h1v1h-1zM799 90h1v1h-1zM798 91h1v1h-1zM800 91h1v1h-1zM799 92h1v1h-1zM803 92h1v1h-1zM802 93h1v1h-1zM804 93h1v1h-1zM803 94h1v1h-1zM807 96h1v1h-1zM806 97h1v1h-1zM808 97h1v1h-1zM807 98h1v1h-1zM811 99h1v1h-1zM810 100h1v1h-1zM812 100h1v1h-1zM811 101h1v1h-1zM815 102h1v1h-1zM814 103h1v1h-1zM816 103h1v1h-1zM815 104h1v1h-1zM819 105h1v1h-1zM818 106h1v1h-1zM820 106h1v1h-1zM819 107h1v1h-1zM823 108h1v1h-1zM822 109h1v1h-1zM824 109h1v1h-1zM823 110h1v1h-1zM827 112h1v1h-1zM826 113h1v1h-1zM828 113h1v1h-1zM827 114h1v1h-1zM831 117h1v1h-1zM830 118h1v1h-1zM832 118h1v1h-1zM831 119h1v1h-1zM835 124h1v1h-1zM834 125h1v1h-1zM836 125h1v1h-1zM835 126h1v1h-1zM839 130h1v1h-1zM838 131h1v1h-1zM840 131h1v1h-1zM839 132h1v1h-1zM843 137h1v1h-1zM842 138h1v1h-1zM844 138h1v1h-1zM843 139h1v1h-1zM847 142h1v1h-1zM846 143h1v1h-1zM848 143h1v1h-1zM847 144h1v1h-1zM851 155h1v1h-1zM850 156h1v1h-1zM852 156h1v1h-1zM851 157h1v1h-1zM855 163h1v1h-1zM854 164h1v1h-1zM856 164h1v1h-1zM855 165h1v1h-1zM859 165h1v1h-1zM858 166h1v1h-1zM860 166h1v1h-1zM859 167h1v1h-1zM863 173h1v1h-1zM862 174h1v1h-1zM864 174h1v1h-1zM863 175h1v1h-1zM867 203h1v1h-1zM866 204h1v1h-1zM868 204h1v1h-1zM867 205h1v1h-1zM871 202h1v1h-1zM870 203h1v1h-1zM872 203h1v1h-1zM871 204h1v1h-1zM875 201h1v1h-1zM874 202h1v1h-1zM876 202h1v1h-1zM875 203h1v1h-1zM879 199h1v1h-1zM878 200h1v1h-1zM880 200h1v1h-1zM879 201h1v1h-1zM883 196h1v1h-1zM882 197h1v1h-1zM884 197h1v1h-1zM883 198h1v1h-1zM887 193h1v1h-1zM886 194h1v1h-1zM888 194h1v1h-1zM887 195h1v1h-1zM891 190h1v1h-1zM890 191h1v1h-1zM892 191h1v1h-1zM891 192h1v1h-1zM895 187h1v1h-1zM894 188h1v1h-1zM896 188h1v1h-1zM895 189h1v1h-1zM899 183h1v1h-1zM898 184h1v1h-1zM900 184h1v1h-1zM899 185h1v1h-1zM903 180h1v1h-1zM902 181h1v1h-1zM904 181h1v1h-1zM903 182h1v1h-1zM907 158h1v1h-1zM906 159h1v1h-1zM908 159h1v1h-1zM907 160h1v1h-1zM911 159h1v1h-1zM910 160h1v1h-1zM912 160h1v1h-1zM911 161h1v1h-1zM915 160h1v1h-1zM914 161h1v1h-1zM916 161h1v1h-1zM915 162h1v1h-1zM919 161h1v1h-1zM918 162h1v1h-1zM920 162h1v1h-1zM919 163h1v1h-1zM923 163h1v1h-1zM922 164h1v1h-1zM924 164h1v1h-1zM923 165h1v1h-1zM927 165h1v1h-1zM926 166h1v1h-1zM928 166h1v1h-1zM927 167h1v1h-1zM931 170h1v1h-1zM930 171h1v1h-1zM932 171h1v1h-1zM931 172h1v1h-1zM935 176h1v1h-1zM934 177h1v1h-1zM936 177h1v1h-1zM935 178h1v1h-1zM939 181h1v1h-1zM938 182h1v1h-1zM940 182h1v1h-1zM939 183h1v1h-1zM943 186h1v1h-1zM942 187h1v1h-1zM944 187h1v1h-1zM943 188h1v1h-1zM947 192h1v1h-1zM946 193h1v1h-1zM948 193h1v1h-1zM947 194h1v1h-1zM951 195h1v1h-1zM950 196h1v1h-1zM952 196h1v1h-1zM951 197h1v1h-1zM955 198h1v1h-1zM954 199h1v1h-1zM956 199h1v1h-1zM955 200h1v1h-1zM959 200h1v1h-1zM958 201h1v1h-1zM960 201h1v1h-1zM959 202h1v1h-1zM963 201h1v1h-1zM962 202h1v1h-1zM964 202h1v1h-1zM963 203h1v1h-1zM967 205h1v1h-1zM966 206h1v1h-1zM968 206h1v1h-1zM967 207h1v1h-1zM971 209h1v1h-1zM970 210h1v1h-1zM972 210h1v1h-1zM971 211h1v1h-1zM975 213h1v1h-1zM974 214h1v1h-1zM976 214h1v1h-1zM975 215h1v1h-1zM979 217h1v1h-1zM978 218h1v1h-1zM980 218h1v1h-1zM979 219h1v1h-1zM983 220h1v1h-1zM982 221h1v1h-1zM984 221h1v1h-1zM983 222h1v1h-1zM987 237h1v1h-1zM986 238h1v1h-1zM988 238h1v1h-1zM987 239h1v1h-1zM991 237h1v1h-1zM990 238h1v1h-1zM992 238h1v1h-1zM991 239h1v1h-1zM995 237h1v1h-1zM994 238h1v1h-1zM996 238h1v1h-1zM995 239h1v1h-1zM999 236h1v1h-1zM998 237h1v1h-1zM1000 237h1v1h-1zM999 238h1v1h-1zM1003 235h1v1h-1zM1002 236h1v1h-1zM1004 236h1v1h-1zM1003 237h1v1h-1zM1007 234h1v1h-1zM1006 235h1v1h-1zM1008 235h1v1h-1zM1007 236h1v1h-1zM1011 233h1v1h-1zM1010 234h1v1h-1zM1012 234h1v1h-1zM1011 235h1v1h-1zM1015 211h1v1h-1zM1014 212h1v1h-1zM1016 212h1v1h-1zM1015 213h1v1h-1zM1019 263h1v1h-1zM1018 264h1v1h-1zM1020 264h1v1h-1zM1019 265h1v1h-1zM1023 263h1v1h-1zM1022 264h1v1h-1zM1024 264h1v1h-1zM1023 265h1v1h-1zM1027 260h1v1h-1zM1026 261h1v1h-1zM1028 261h1v1h-1zM1027 262h1v1h-1zM1031 256h1v1h-1zM1030 257h1v1h-1zM1032 257h1v1h-1zM1031 258h1v1h-1zM1035 251h1v1h-1zM1034 252h1v1h-1zM1036 252h1v1h-1zM1035 253h1v1h-1zM1039 245h1v1h-1zM1038 246h1v1h-1zM1040 246h1v1h-1zM1039 247h1v1h-1zM1043 239h1v1h-1zM1042 240h1v1h-1zM1044 240h1v1h-1zM1043 241h1v1h-1zM1047 235h1v1h-1zM1046 236h1v1h-1zM1048 236h1v1h-1zM1047 237h1v1h-1zM1051 232h1v1h-1zM1050 233h1v1h-1zM1052 233h1v1h-1zM1051 234h1v1h-1zM1055 228h1v1h-1zM1054 229h1v1h-1zM1056 229h1v1h-1zM1055 230h1v1h-1zM1059 224h1v1h-1zM1058 225h1v1h-1zM1060 225h1v1h-1zM1059 226h1v1h-1zM1063 220h1v1h-1zM1062 221h1v1h-1zM1064 221h1v1h-1zM1063 222h1v1h-1zM1067 217h1v1h-1zM1066 218h1v1h-1zM1068 218h1v1h-1zM1067 219h1v1h-1zM1071 215h1v1h-1zM1070 216h1v1h-1zM1072 216h1v1h-1zM1071 217h1v1h-1zM1075 212h1v1h-1zM1074 213h1v1h-1zM1076 213h1v1h-1zM1075 214h1v1h-1zM1079 210h1v1h-1zM1078 211h1v1h-1zM1080 211h1v1h-1zM1079 212h1v1h-1zM1083 209h1v1h-1zM1082 210h1v1h-1zM1084 210h1v1h-1zM1083 211h1v1h-1zM1087 185h1v1h-1zM1086 186h1v1h-1zM1088 186h1v1h-1zM1087 187h1v1h-1zM1091 185h1v1h-1zM1090 186h1v1h-1zM1092 186h1v1h-1zM1091 187h1v1h-1zM1095 186h1v1h-1zM1094 187h1v1h-1zM1096 187h1v1h-1zM1095 188h1v1h-1zM1099 189h1v1h-1zM1098 190h1v1h-1zM1100 190h1v1h-1zM1099 191h1v1h-1zM1103 193h1v1h-1zM1102 194h1v1h-1zM1104 194h1v1h-1zM1103 195h1v1h-1zM1107 198h1v1h-1zM1106 199h1v1h-1zM1108 199h1v1h-1zM1107 200h1v1h-1z" fill="#00FF00"/>
<rect x="3" y="94" width="1390" height="2" fill="#4682B4"/>
<rect x="3" y="139" width="1390" height="2" fill="#4682B4"/>
<rect x="3" y="184" width="1390" height="2" fill="#4682B4"/>
<rect x="3" y="223" width="1390" height="2" fill="#000000"/>
<rect x="3" y="235" width="1390" height="1" fill="#778899"/>
<rect x="3" y="268" width="1390" height="2" fill="#FF0000"/>
<rect x="3" y="314" width="1375" height="2" fill="#FF0000"/>
<rect x="3" y="346" width="1390" height="2" fill="#FF0000"/>
<rect x="3" y="325" width="1390" height="1" fill="#DC143C"/>
<rect x="3" y="172" width="1" height="27" fill="#4682B4"/>
<rect x="2" y="172" width="3" height="15" fill="#4682B4"/>
<rect x="7" y="163" width="1" height="19" fill="#4682B4"/>
<rect x="6" y="170" width="3" height="5" fill="#4682B4"/>
<rect x="11" y="145" width="1" height="28" fill="#4682B4"/>
<rect x="10" y="164" width="3" height="9" fill="#4682B4"/>
<rect x="15" y="153" width="1" height="15" fill="#4682B4"/>
<rect x="14" y="157" width="3" height="10" fill="#4682B4"/>
<rect x="19" y="140" width="1" height="27" fill="#4682B4"/>
<rect x="18" y="153" width="3" height="6" fill="#4682B4"/>
<rect x="23" y="140" width="1" height="16" fill="#4682B4"/>
<rect x="22" y="152" width="3" height="3" fill="#4682B4"/>
<rect x="27" y="144" width="1" height="12" fill="#4682B4"/>
<rect x="26" y="149" width="3" height="5" fill="#4682B4"/>
<rect x="31" y="142" width="1" height="9" fill="#4682B4"/>
<rect x="30" y="143" width="3" height="7" fill="#4682B4"/>
<rect x="35" y="139" width="1" height="11" fill="#4682B4"/>
<rect x="34" y="139" width="3" height="7" fill="#4682B4"/>
<rect x="39" y="139" width="1" height="14" fill="#FF0000"/>
<rect x="38" y="145" width="3" height="7" fill="#FF0000"/>
<rect x="43" y="146" width="1" height="14" fill="#FF0000"/>
<rect x="42" y="149" width="3" height="4" fill="#FF0000"/>
<rect x="47" y="146" width="1" height="17" fill="#4682B4"/>
<rect x="46" y="149" width="3" height="6" fill="#4682B4"/>
<rect x="51" y="146" width="1" height="14" fill="#FF0000"/>
<rect x="50" y="148" width="3" height="11" fill="#FF0000"/>
<rect x="55" y="156" width="1" height="11" fill="#FF0000"/>
<rect x="54" y="157" width="3" height="8" fill="#FF0000"/>
<rect x="59" y="161" width="1" height="14" fill="#FF0000"/>
<rect x="58" y="162" width="3" height="11" fill="#FF0000"/>
<rect x="63" y="165" width="1" height="14" fill="#4682B4"/>
<rect x="62" y="168" width="3" height="5" fill="#4682B4"/>
<rect x="67" y="166" width="1" height="13" fill="#FF0000"/>
<rect x="66" y="168" width="3" height="8" fill="#FF0000"/>
<rect x="71" y="169" width="1" height="13" fill="#4682B4"/>
<rect x="70" y="170" width="3" height="7" fill="#4682B4"/>
<rect x="75" y="154" width="1" height="18" fill="#4682B4"/>
<rect x="74" y="155" width="3" height="17" fill="#4682B4"/>
<rect x="79" y="155" width="1" height="15" fill="#FF0000"/>
<rect x="78" y="155" width="3" height="14" fill="#FF0000"/>
<rect x="83" y="156" width="1" height="16" fill="#4682B4"/>
<rect x="82" y="161" width="3" height="7" fill="#4682B4"/>
<rect x="87" y="148" width="1" height="19" fill="#4682B4"/>
<rect x="86" y="149" width="3" height="14" fill="#4682B4"/>
<rect x="91" y="143" width="1" height="12" fill="#FF0000"/>
<rect x="90" y="149" width="3" height="4" fill="#FF0000"/>
<rect x="95" y="146" width="1" height="20" fill="#FF0000"/>
<rect x="94" y="151" width="3" height="8" fill="#FF0000"/>
<rect x="99" y="150" width="1" height="26" fill="#FF0000"/>
<rect x="98" y="153" width="3" height="17" fill="#FF0000"/>
<rect x="103" y="157" width="1" height="15" fill="#4682B4"/>
<rect x="102" y="159" width="3" height="7" fill="#4682B4"/>
<rect x="107" y="159" width="1" height="13" fill="#FF0000"/>
<rect x="106" y="160" width="3" height="3" fill="#FF0000"/>
<rect x="111" y="149" width="1" height="15" fill="#4682B4"/>
<rect x="110" y="152" width="3" height="10" fill="#4682B4"/>
<rect x="115" y="151" width="1" height="15" fill="#FF0000"/>
<rect x="114" y="152" width="3" height="13" fill="#FF0000"/>
<rect x="119" y="155" width="1" height="11" fill="#4682B4"/>
<rect x="118" y="157" width="3" height="8" fill="#4682B4"/>
<rect x="123" y="151" width="1" height="11" fill="#4682B4"/>
<rect x="122" y="156" width="3" height="5" fill="#4682B4"/>
<rect x="127" y="157" width="1" height="6" fill="#FF0000"/>
<rect x="126" y="158" width="3" height="4" fill="#FF0000"/>
<rect x="131" y="153" width="1" height="26" fill="#FF0000"/>
<rect x="130" y="166" width="3" height="7" fill="#FF0000"/>
<rect x="135" y="161" width="1" height="12" fill="#4682B4"/>
<rect x="134" y="161" width="3" height="12" fill="#4682B4"/>
<rect x="139" y="119" width="1" height="45" fill="#4682B4"/>
<rect x="138" y="129" width="3" height="35" fill="#4682B4"/>
<rect x="143" y="101" width="1" height="29" fill="#4682B4"/>
<rect x="142" y="109" width="3" height="21" fill="#4682B4"/>
<rect x="147" y="103" width="1" height="11" fill="#4682B4"/>
<rect x="146" y="109" width="3" height="2" fill="#4682B4"/>
<rect x="151" y="104" width="1" height="9" fill="#FF0000"/>
<rect x="150" y="108" width="3" height="3" fill="#FF0000"/>
<rect x="155" y="90" width="1" height="23" fill="#4682B4"/>
<rect x="154" y="90" width="3" height="20" fill="#4682B4"/>
<rect x="159" y="87" width="1" height="11" fill="#FF0000"/>
<rect x="158" y="89" width="3" height="4" fill="#FF0000"/>
<rect x="163" y="82" width="1" height="15" fill="#FF0000"/>
<rect x="162" y="90" width="3" height="3" fill="#FF0000"/>
<rect x="167" y="89" width="1" height="15" fill="#FF0000"/>
<rect x="166" y="92" width="3" height="11" fill="#FF0000"/>
<rect x="171" y="86" width="1" height="17" fill="#4682B4"/>
<rect x="170" y="87" width="3" height="15" fill="#4682B4"/>
<rect x="175" y="83" width="1" height="13" fill="#FF0000"/>
<rect x="174" y="87" width="3" height="6" fill="#FF0000"/>
<rect x="179" y="91" width="1" height="14" fill="#FF0000"/>
<rect x="178" y="92" width="3" height="8" fill="#FF0000"/>
<rect x="183" y="97" width="1" height="18" fill="#FF0000"/>
<rect x="182" y="102" width="3" height="8" fill="#FF0000"/>
<rect x="187" y="101" width="1" height="21" fill="#FF0000"/>
<rect x="186" y="109" width="3" height="5" fill="#FF0000"/>
<rect x="191" y="111" width="1" height="41" fill="#FF0000"/>
<rect x="190" y="112" width="3" height="18" fill="#FF0000"/>
<rect x="195" y="121" width="1" height="25" fill="#FF0000"/>
<rect x="194" y="128" width="3" height="12" fill="#FF0000"/>
<rect x="199" y="131" width="1" height="19" fill="#FF0000"/>
<rect x="198" y="137" width="3" height="12" fill="#FF0000"/>
<rect x="203" y="137" width="1" height="16" fill="#4682B4"/>
<rect x="202" y="138" width="3" height="10" fill="#4682B4"/>
<rect x="207" y="136" width="1" height="13" fill="#FF0000"/>
<rect x="206" y="137" width="3" height="8" fill="#FF0000"/>
<rect x="211" y="134" width="1" height="12" fill="#4682B4"/>
<rect x="210" y="135" width="3" height="9" fill="#4682B4"/>
<rect x="215" y="130" width="1" height="10" fill="#4682B4"/>
<rect x="214" y="132" width="3" height="5" fill="#4682B4"/>
<rect x="219" y="131" width="1" height="5" fill="#FF0000"/>
<rect x="218" y="132" width="3" height="3" fill="#FF0000"/>
<rect x="223" y="131" width="1" height="19" fill="#FF0000"/>
<rect x="222" y="135" width="3" height="6" fill="#FF0000"/>
<rect x="227" y="116" width="1" height="26" fill="#4682B4"/>
<rect x="226" y="120" width="3" height="21" fill="#4682B4"/>
<rect x="231" y="110" width="1" height="13" fill="#4682B4"/>
<rect x="230" y="116" width="3" height="6" fill="#4682B4"/>
<rect x="235" y="111" width="1" height="17" fill="#FF0000"/>
<rect x="234" y="116" width="3" height="11" fill="#FF0000"/>
<rect x="239" y="123" width="1" height="13" fill="#FF0000"/>
<rect x="238" y="125" width="3" height="10" fill="#FF0000"/>
<rect x="243" y="128" width="1" height="16" fill="#FF0000"/>
<rect x="242" y="132" width="3" height="9" fill="#FF0000"/>
<rect x="247" y="128" width="1" height="13" fill="#4682B4"/>
<rect x="246" y="133" width="3" height="7" fill="#4682B4"/>
<rect x="251" y="131" width="1" height="15" fill="#FF0000"/>
<rect x="250" y="133" width="3" height="3" fill="#FF0000"/>
<rect x="255" y="122" width="1" height="14" fill="#4682B4"/>
<rect x="254" y="128" width="3" height="7" fill="#4682B4"/>
<rect x="259" y="122" width="1" height="14" fill="#FF0000"/>
<rect x="258" y="128" width="3" height="4" fill="#FF0000"/>
<rect x="263" y="128" width="1" height="8" fill="#4682B4"/>
<rect x="262" y="128" width="3" height="4" fill="#4682B4"/>
<rect x="267" y="129" width="1" height="11" fill="#FF0000"/>
<rect x="266" y="130" width="3" height="4" fill="#FF0000"/>
<rect x="271" y="132" width="1" height="9" fill="#FF0000"/>
<rect x="270" y="137" width="3" height="2" fill="#FF0000"/>
<rect x="275" y="135" width="1" height="6" fill="#FF0000"/>
<rect x="274" y="137" width="3" height="3" fill="#FF0000"/>
<rect x="279" y="138" width="1" height="53" fill="#FF0000"/>
<rect x="278" y="139" width="3" height="27" fill="#FF0000"/>
<rect x="283" y="154" width="1" height="28" fill="#FF0000"/>
<rect x="282" y="164" width="3" height="18" fill="#FF0000"/>
<rect x="287" y="176" width="1" height="70" fill="#FF0000"/>
<rect x="286" y="180" width="3" height="52" fill="#FF0000"/>
<rect x="291" y="223" width="1" height="30" fill="#FF0000"/>
<rect x="290" y="231" width="3" height="15" fill="#FF0000"/>
<rect x="295" y="237" width="1" height="24" fill="#FF0000"/>
<rect x="294" y="245" width="3" height="3" fill="#FF0000"/>
<rect x="299" y="229" width="1" height="23" fill="#4682B4"/>
<rect x="298" y="230" width="3" height="19" fill="#4682B4"/>
<rect x="303" y="225" width="1" height="13" fill="#FF0000"/>
<rect x="302" y="230" width="3" height="3" fill="#FF0000"/>
<rect x="307" y="225" width="1" height="11" fill="#4682B4"/>
<rect x="306" y="226" width="3" height="7" fill="#4682B4"/>
<rect x="311" y="225" width="1" height="8" fill="#FF0000"/>
<rect x="310" y="226" width="3" height="6" fill="#FF0000"/>
<rect x="315" y="225" width="1" height="16" fill="#FF0000"/>
<rect x="314" y="232" width="3" height="4" fill="#FF0000"/>
<rect x="319" y="234" width="1" height="14" fill="#FF0000"/>
<rect x="318" y="234" width="3" height="3" fill="#FF0000"/>
<rect x="323" y="224" width="1" height="19" fill="#4682B4"/>
<rect x="322" y="233" width="3" height="4" fill="#4682B4"/>
<rect x="327" y="228" width="1" height="12" fill="#FF0000"/>
<rect x="326" y="233" width="3" height="7" fill="#FF0000"/>
<rect x="331" y="228" width="1" height="13" fill="#4682B4"/>
<rect x="330" y="234" width="3" height="5" fill="#4682B4"/>
<rect x="335" y="231" width="1" height="8" fill="#4682B4"/>
<rect x="334" y="233" width="3" height="5" fill="#4682B4"/>
<rect x="339" y="224" width="1" height="12" fill="#4682B4"/>
<rect x="338" y="231" width="3" height="5" fill="#4682B4"/>
<rect x="343" y="223" width="1" height="13" fill="#4682B4"/>
<rect x="342" y="227" width="3" height="5" fill="#4682B4"/>
<rect x="347" y="222" width="1" height="10" fill="#FF0000"/>
<rect x="346" y="227" width="3" height="4" fill="#FF0000"/>
<rect x="351" y="228" width="1" height="11" fill="#FF0000"/>
<rect x="350" y="229" width="3" height="7" fill="#FF0000"/>
<rect x="355" y="209" width="1" height="28" fill="#4682B4"/>
<rect x="354" y="210" width="3" height="26" fill="#4682B4"/>
<rect x="359" y="210" width="1" height="12" fill="#FF0000"/>
<rect x="358" y="211" width="3" height="9" fill="#FF0000"/>
<rect x="363" y="217" width="1" height="10" fill="#FF0000"/>
<rect x="362" y="219" width="3" height="3" fill="#FF0000"/>
<rect x="367" y="214" width="1" height="10" fill="#4682B4"/>
<rect x="366" y="217" width="3" height="5" fill="#4682B4"/>
<rect x="371" y="215" width="1" height="30" fill="#FF0000"/>
<rect x="370" y="221" width="3" height="14" fill="#FF0000"/>
<rect x="375" y="202" width="1" height="34" fill="#4682B4"/>
<rect x="374" y="230" width="3" height="6" fill="#4682B4"/>
<rect x="379" y="221" width="1" height="25" fill="#4682B4"/>
<rect x="378" y="226" width="3" height="6" fill="#4682B4"/>
<rect x="383" y="215" width="1" height="15" fill="#4682B4"/>
<rect x="382" y="215" width="3" height="13" fill="#4682B4"/>
<rect x="387" y="210" width="1" height="15" fill="#FF0000"/>
<rect x="386" y="215" width="3" height="9" fill="#FF0000"/>
<rect x="391" y="221" width="1" height="23" fill="#FF0000"/>
<rect x="390" y="222" width="3" height="5" fill="#FF0000"/>
<rect x="395" y="221" width="1" height="12" fill="#FF0000"/>
<rect x="394" y="225" width="3" height="5" fill="#FF0000"/>
<rect x="399" y="226" width="1" height="10" fill="#FF0000"/>
<rect x="398" y="228" width="3" height="8" fill="#FF0000"/>
<rect x="403" y="227" width="1" height="9" fill="#4682B4"/>
<rect x="402" y="232" width="3" height="4" fill="#4682B4"/>
<rect x="407" y="219" width="1" height="19" fill="#FF0000"/>
<rect x="406" y="229" width="3" height="8" fill="#FF0000"/>
<rect x="411" y="231" width="1" height="20" fill="#FF0000"/>
<rect x="410" y="235" width="3" height="15" fill="#FF0000"/>
<rect x="415" y="239" width="1" height="13" fill="#4682B4"/>
<rect x="414" y="244" width="3" height="6" fill="#4682B4"/>
<rect x="419" y="241" width="1" height="10" fill="#FF0000"/>
<rect x="418" y="243" width="3" height="6" fill="#FF0000"/>
<rect x="423" y="245" width="1" height="7" fill="#4682B4"/>
<rect x="422" y="247" width="3" height="2" fill="#4682B4"/>
<rect x="427" y="244" width="1" height="17" fill="#FF0000"/>
<rect x="426" y="247" width="3" height="7" fill="#FF0000"/>
<rect x="431" y="251" width="1" height="10" fill="#FF0000"/>
<rect x="430" y="252" width="3" height="9" fill="#FF0000"/>
<rect x="435" y="255" width="1" height="12" fill="#4682B4"/>
<rect x="434" y="255" width="3" height="6" fill="#4682B4"/>
<rect x="439" y="249" width="1" height="14" fill="#FF0000"/>
<rect x="438" y="255" width="3" height="8" fill="#FF0000"/>
<rect x="443" y="261" width="1" height="14" fill="#FF0000"/>
<rect x="442" y="261" width="3" height="12" fill="#FF0000"/>
<rect x="447" y="271" width="1" height="10" fill="#FF0000"/>
<rect x="446" y="272" width="3" height="7" fill="#FF0000"/>
<rect x="451" y="270" width="1" height="12" fill="#4682B4"/>
<rect x="450" y="274" width="3" height="5" fill="#4682B4"/>
<rect x="455" y="273" width="1" height="11" fill="#FF0000"/>
<rect x="454" y="275" width="3" height="6" fill="#FF0000"/>
<rect x="459" y="279" width="1" height="32" fill="#FF0000"/>
<rect x="458" y="279" width="3" height="28" fill="#FF0000"/>
<rect x="463" y="279" width="1" height="40" fill="#4682B4"/>
<rect x="462" y="281" width="3" height="26" fill="#4682B4"/>
<rect x="467" y="273" width="1" height="37" fill="#FF0000"/>
<rect x="466" y="280" width="3" height="20" fill="#FF0000"/>
<rect x="471" y="280" width="1" height="51" fill="#FF0000"/>
<rect x="470" y="298" width="3" height="14" fill="#FF0000"/>
<rect x="475" y="264" width="1" height="55" fill="#4682B4"/>
<rect x="474" y="277" width="3" height="35" fill="#4682B4"/>
<rect x="479" y="271" width="1" height="21" fill="#FF0000"/>
<rect x="478" y="278" width="3" height="8" fill="#FF0000"/>
<rect x="483" y="283" width="1" height="41" fill="#FF0000"/>
<rect x="482" y="284" width="3" height="21" fill="#FF0000"/>
<rect x="487" y="242" width="1" height="64" fill="#4682B4"/>
<rect x="486" y="243" width="3" height="62" fill="#4682B4"/>
<rect x="491" y="211" width="1" height="43" fill="#FF0000"/>
<rect x="490" y="243" width="3" height="9" fill="#FF0000"/>
<rect x="495" y="235" width="1" height="17" fill="#4682B4"/>
<rect x="494" y="239" width="3" height="13" fill="#4682B4"/>
<rect x="499" y="235" width="1" height="10" fill="#4682B4"/>
<rect x="498" y="237" width="3" height="3" fill="#4682B4"/>
<rect x="503" y="234" width="1" height="9" fill="#FF0000"/>
<rect x="502" y="235" width="3" height="7" fill="#FF0000"/>
<rect x="507" y="228" width="1" height="23" fill="#4682B4"/>
<rect x="506" y="232" width="3" height="9" fill="#4682B4"/>
<rect x="511" y="232" width="1" height="14" fill="#FF0000"/>
<rect x="510" y="232" width="3" height="9" fill="#FF0000"/>
<rect x="515" y="236" width="1" height="7" fill="#4682B4"/>
<rect x="514" y="238" width="3" height="2" fill="#4682B4"/>
<rect x="519" y="236" width="1" height="9" fill="#4682B4"/>
<rect x="518" y="237" width="3" height="3" fill="#4682B4"/>
<rect x="523" y="223" width="1" height="20" fill="#4682B4"/>
<rect x="522" y="228" width="3" height="11" fill="#4682B4"/>
<rect x="527" y="226" width="1" height="12" fill="#FF0000"/>
<rect x="526" y="228" width="3" height="9" fill="#FF0000"/>
<rect x="531" y="229" width="1" height="15" fill="#4682B4"/>
<rect x="530" y="233" width="3" height="5" fill="#4682B4"/>
<rect x="535" y="231" width="1" height="13" fill="#4682B4"/>
<rect x="534" y="235" width="3" height="4" fill="#4682B4"/>
<rect x="539" y="232" width="1" height="15" fill="#FF0000"/>
<rect x="538" y="235" width="3" height="7" fill="#FF0000"/>
<rect x="543" y="224" width="1" height="19" fill="#4682B4"/>
<rect x="542" y="225" width="3" height="17" fill="#4682B4"/>
<rect x="547" y="192" width="1" height="36" fill="#4682B4"/>
<rect x="546" y="205" width="3" height="21" fill="#4682B4"/>
<rect x="551" y="193" width="1" height="20" fill="#FF0000"/>
<rect x="550" y="205" width="3" height="6" fill="#FF0000"/>
<rect x="555" y="185" width="1" height="30" fill="#4682B4"/>
<rect x="554" y="186" width="3" height="25" fill="#4682B4"/>
<rect x="559" y="183" width="1" height="26" fill="#FF0000"/>
<rect x="558" y="185" width="3" height="14" fill="#FF0000"/>
<rect x="563" y="194" width="1" height="26" fill="#FF0000"/>
<rect x="562" y="198" width="3" height="20" fill="#FF0000"/>
<rect x="567" y="209" width="1" height="27" fill="#FF0000"/>
<rect x="566" y="216" width="3" height="16" fill="#FF0000"/>
<rect x="571" y="213" width="1" height="19" fill="#4682B4"/>
<rect x="570" y="214" width="3" height="18" fill="#4682B4"/>
<rect x="575" y="193" width="1" height="25" fill="#4682B4"/>
<rect x="574" y="202" width="3" height="13" fill="#4682B4"/>
<rect x="579" y="198" width="1" height="8" fill="#4682B4"/>
<rect x="578" y="200" width="3" height="3" fill="#4682B4"/>
<rect x="583" y="197" width="1" height="20" fill="#FF0000"/>
<rect x="582" y="200" width="3" height="8" fill="#FF0000"/>
<rect x="587" y="200" width="1" height="10" fill="#4682B4"/>
<rect x="586" y="205" width="3" height="2" fill="#4682B4"/>
<rect x="591" y="189" width="1" height="29" fill="#FF0000"/>
<rect x="590" y="194" width="3" height="5" fill="#FF0000"/>
<rect x="595" y="186" width="1" height="17" fill="#4682B4"/>
<rect x="594" y="191" width="3" height="8" fill="#4682B4"/>
<rect x="599" y="176" width="1" height="18" fill="#4682B4"/>
<rect x="598" y="179" width="3" height="13" fill="#4682B4"/>
<rect x="603" y="177" width="1" height="9" fill="#FF0000"/>
<rect x="602" y="180" width="3" height="4" fill="#FF0000"/>
<rect x="607" y="172" width="1" height="13" fill="#4682B4"/>
<rect x="606" y="174" width="3" height="9" fill="#4682B4"/>
<rect x="611" y="172" width="1" height="7" fill="#FF0000"/>
<rect x="610" y="174" width="3" height="4" fill="#FF0000"/>
<rect x="615" y="175" width="1" height="8" fill="#FF0000"/>
<rect x="614" y="176" width="3" height="4" fill="#FF0000"/>
<rect x="619" y="175" width="1" height="9" fill="#FF0000"/>
<rect x="618" y="176" width="3" height="7" fill="#FF0000"/>
<rect x="623" y="168" width="1" height="20" fill="#4682B4"/>
<rect x="622" y="175" width="3" height="7" fill="#4682B4"/>
<rect x="627" y="168" width="1" height="19" fill="#FF0000"/>
<rect x="626" y="175" width="3" height="6" fill="#FF0000"/>
<rect x="631" y="175" width="1" height="9" fill="#FF0000"/>
<rect x="630" y="176" width="3" height="6" fill="#FF0000"/>
<rect x="635" y="176" width="1" height="9" fill="#4682B4"/>
<rect x="634" y="178" width="3" height="4" fill="#4682B4"/>
<rect x="639" y="177" width="1" height="21" fill="#FF0000"/>
<rect x="638" y="178" width="3" height="18" fill="#FF0000"/>
<rect x="643" y="191" width="1" height="11" fill="#FF0000"/>
<rect x="642" y="193" width="3" height="4" fill="#FF0000"/>
<rect x="647" y="193" width="1" height="15" fill="#FF0000"/>
<rect x="646" y="195" width="3" height="10" fill="#FF0000"/>
<rect x="651" y="204" width="1" height="18" fill="#FF0000"/>
<rect x="650" y="208" width="3" height="4" fill="#FF0000"/>
<rect x="655" y="198" width="1" height="23" fill="#4682B4"/>
<rect x="654" y="208" width="3" height="4" fill="#4682B4"/>
<rect x="659" y="203" width="1" height="15" fill="#FF0000"/>
<rect x="658" y="204" width="3" height="13" fill="#FF0000"/>
<rect x="663" y="215" width="1" height="13" fill="#FF0000"/>
<rect x="662" y="216" width="3" height="6" fill="#FF0000"/>
<rect x="667" y="216" width="1" height="17" fill="#FF0000"/>
<rect x="666" y="222" width="3" height="11" fill="#FF0000"/>
<rect x="671" y="219" width="1" height="17" fill="#4682B4"/>
<rect x="670" y="220" width="3" height="13" fill="#4682B4"/>
<rect x="675" y="217" width="1" height="11" fill="#FF0000"/>
<rect x="674" y="219" width="3" height="3" fill="#FF0000"/>
<rect x="679" y="215" width="1" height="7" fill="#4682B4"/>
<rect x="678" y="217" width="3" height="5" fill="#4682B4"/>
<rect x="683" y="207" width="1" height="15" fill="#4682B4"/>
<rect x="682" y="209" width="3" height="12" fill="#4682B4"/>
<rect x="687" y="202" width="1" height="12" fill="#4682B4"/>
<rect x="686" y="204" width="3" height="9" fill="#4682B4"/>
<rect x="691" y="198" width="1" height="8" fill="#4682B4"/>
<rect x="690" y="201" width="3" height="4" fill="#4682B4"/>
<rect x="695" y="200" width="1" height="9" fill="#FF0000"/>
<rect x="694" y="201" width="3" height="7" fill="#FF0000"/>
<rect x="699" y="202" width="1" height="7" fill="#4682B4"/>
<rect x="698" y="204" width="3" height="4" fill="#4682B4"/>
<rect x="703" y="191" width="1" height="17" fill="#4682B4"/>
<rect x="702" y="196" width="3" height="9" fill="#4682B4"/>
<rect x="707" y="192" width="1" height="9" fill="#FF0000"/>
<rect x="706" y="195" width="3" height="5" fill="#FF0000"/>
<rect x="711" y="190" width="1" height="15" fill="#FF0000"/>
<rect x="710" y="198" width="3" height="6" fill="#FF0000"/>
<rect x="715" y="199" width="1" height="17" fill="#FF0000"/>
<rect x="714" y="202" width="3" height="13" fill="#FF0000"/>
<rect x="719" y="199" width="1" height="17" fill="#4682B4"/>
<rect x="718" y="203" width="3" height="12" fill="#4682B4"/>
<rect x="723" y="188" width="1" height="18" fill="#4682B4"/>
<rect x="722" y="190" width="3" height="15" fill="#4682B4"/>
<rect x="727" y="182" width="1" height="10" fill="#4682B4"/>
<rect x="726" y="185" width="3" height="6" fill="#4682B4"/>
<rect x="731" y="165" width="1" height="29" fill="#4682B4"/>
<rect x="730" y="168" width="3" height="18" fill="#4682B4"/>
<rect x="735" y="163" width="1" height="13" fill="#4682B4"/>
<rect x="734" y="165" width="3" height="5" fill="#4682B4"/>
<rect x="739" y="139" width="1" height="28" fill="#4682B4"/>
<rect x="738" y="140" width="3" height="27" fill="#4682B4"/>
<rect x="743" y="134" width="1" height="22" fill="#4682B4"/>
<rect x="742" y="138" width="3" height="3" fill="#4682B4"/>
<rect x="747" y="110" width="1" height="32" fill="#4682B4"/>
<rect x="746" y="113" width="3" height="28" fill="#4682B4"/>
<rect x="751" y="98" width="1" height="20" fill="#4682B4"/>
<rect x="750" y="103" width="3" height="11" fill="#4682B4"/>
<rect x="755" y="100" width="1" height="37" fill="#FF0000"/>
<rect x="754" y="103" width="3" height="33" fill="#FF0000"/>
<rect x="759" y="116" width="1" height="25" fill="#4682B4"/>
<rect x="758" y="123" width="3" height="12" fill="#4682B4"/>
<rect x="763" y="113" width="1" height="13" fill="#4682B4"/>
<rect x="762" y="122" width="3" height="3" fill="#4682B4"/>
<rect x="767" y="119" width="1" height="15" fill="#FF0000"/>
<rect x="766" y="122" width="3" height="8" fill="#FF0000"/>
<rect x="771" y="123" width="1" height="9" fill="#4682B4"/>
<rect x="770" y="125" width="3" height="5" fill="#4682B4"/>
<rect x="775" y="85" width="1" height="28" fill="#4682B4"/>
<rect x="774" y="95" width="3" height="11" fill="#4682B4"/>
<rect x="779" y="86" width="1" height="27" fill="#FF0000"/>
<rect x="778" y="95" width="3" height="17" fill="#FF0000"/>
<rect x="783" y="109" width="1" height="19" fill="#FF0000"/>
<rect x="782" y="110" width="3" height="17" fill="#FF0000"/>
<rect x="787" y="111" width="1" height="16" fill="#4682B4"/>
<rect x="786" y="116" width="3" height="10" fill="#4682B4"/>
<rect x="791" y="116" width="1" height="12" fill="#FF0000"/>
<rect x="790" y="117" width="3" height="5" fill="#FF0000"/>
<rect x="795" y="119" width="1" height="18" fill="#FF0000"/>
<rect x="794" y="120" width="3" height="16" fill="#FF0000"/>
<rect x="799" y="121" width="1" height="17" fill="#FF0000"/>
<rect x="798" y="134" width="3" height="2" fill="#FF0000"/>
<rect x="803" y="119" width="1" height="21" fill="#4682B4"/>
<rect x="802" y="127" width="3" height="12" fill="#4682B4"/>
<rect x="807" y="127" width="1" height="13" fill="#FF0000"/>
<rect x="806" y="127" width="3" height="12" fill="#FF0000"/>
<rect x="811" y="133" width="1" height="14" fill="#FF0000"/>
<rect x="810" y="137" width="3" height="3" fill="#FF0000"/>
<rect x="815" y="130" width="1" height="12" fill="#4682B4"/>
<rect x="814" y="131" width="3" height="10" fill="#4682B4"/>
<rect x="819" y="130" width="1" height="13" fill="#FF0000"/>
<rect x="818" y="131" width="3" height="4" fill="#FF0000"/>
<rect x="823" y="129" width="1" height="21" fill="#FF0000"/>
<rect x="822" y="133" width="3" height="15" fill="#FF0000"/>
<rect x="827" y="137" width="1" height="19" fill="#4682B4"/>
<rect x="826" y="139" width="3" height="10" fill="#4682B4"/>
<rect x="831" y="138" width="1" height="21" fill="#FF0000"/>
<rect x="830" y="142" width="3" height="4" fill="#FF0000"/>
<rect x="835" y="142" width="1" height="18" fill="#FF0000"/>
<rect x="834" y="144" width="3" height="12" fill="#FF0000"/>
<rect x="839" y="143" width="1" height="33" fill="#FF0000"/>
<rect x="838" y="151" width="3" height="22" fill="#FF0000"/>
<rect x="843" y="171" width="1" height="30" fill="#FF0000"/>
<rect x="842" y="172" width="3" height="20" fill="#FF0000"/>
<rect x="847" y="173" width="1" height="21" fill="#4682B4"/>
<rect x="846" y="182" width="3" height="9" fill="#4682B4"/>
<rect x="851" y="165" width="1" height="19" fill="#FF0000"/>
<rect x="850" y="180" width="3" height="3" fill="#FF0000"/>
<rect x="855" y="180" width="1" height="24" fill="#FF0000"/>
<rect x="854" y="181" width="3" height="15" fill="#FF0000"/>
<rect x="859" y="185" width="1" height="16" fill="#4682B4"/>
<rect x="858" y="186" width="3" height="10" fill="#4682B4"/>
<rect x="863" y="180" width="1" height="9" fill="#4682B4"/>
<rect x="862" y="185" width="3" height="2" fill="#4682B4"/>
<rect x="867" y="176" width="1" height="16" fill="#FF0000"/>
<rect x="866" y="184" width="3" height="6" fill="#FF0000"/>
<rect x="871" y="177" width="1" height="18" fill="#4682B4"/>
<rect x="870" y="178" width="3" height="11" fill="#4682B4"/>
<rect x="875" y="171" width="1" height="10" fill="#4682B4"/>
<rect x="874" y="173" width="3" height="6" fill="#4682B4"/>
<rect x="879" y="165" width="1" height="11" fill="#4682B4"/>
<rect x="878" y="167" width="3" height="7" fill="#4682B4"/>
<rect x="883" y="165" width="1" height="9" fill="#4682B4"/>
<rect x="882" y="166" width="3" height="5" fill="#4682B4"/>
<rect x="887" y="165" width="1" height="7" fill="#FF0000"/>
<rect x="886" y="166" width="3" height="5" fill="#FF0000"/>
<rect x="891" y="167" width="1" height="10" fill="#FF0000"/>
<rect x="890" y="168" width="3" height="7" fill="#FF0000"/>
<rect x="895" y="162" width="1" height="15" fill="#4682B4"/>
<rect x="894" y="164" width="3" height="11" fill="#4682B4"/>
<rect x="899" y="158" width="1" height="11" fill="#4682B4"/>
<rect x="898" y="163" width="3" height="3" fill="#4682B4"/>
<rect x="903" y="163" width="1" height="18" fill="#FF0000"/>
<rect x="902" y="164" width="3" height="14" fill="#FF0000"/>
<rect x="907" y="177" width="1" height="12" fill="#FF0000"/>
<rect x="906" y="177" width="3" height="9" fill="#FF0000"/>
<rect x="911" y="179" width="1" height="10" fill="#4682B4"/>
<rect x="910" y="183" width="3" height="4" fill="#4682B4"/>
<rect x="915" y="180" width="1" height="14" fill="#FF0000"/>
<rect x="914" y="182" width="3" height="7" fill="#FF0000"/>
<rect x="919" y="174" width="1" height="21" fill="#FF0000"/>
<rect x="918" y="186" width="3" height="5" fill="#FF0000"/>
<rect x="923" y="175" width="1" height="20" fill="#4682B4"/>
<rect x="922" y="182" width="3" height="8" fill="#4682B4"/>
<rect x="927" y="174" width="1" height="33" fill="#FF0000"/>
<rect x="926" y="182" width="3" height="24" fill="#FF0000"/>
<rect x="931" y="204" width="1" height="21" fill="#FF0000"/>
<rect x="930" y="204" width="3" height="20" fill="#FF0000"/>
<rect x="935" y="203" width="1" height="21" fill="#4682B4"/>
<rect x="934" y="212" width="3" height="12" fill="#4682B4"/>
<rect x="939" y="201" width="1" height="16" fill="#4682B4"/>
<rect x="938" y="205" width="3" height="9" fill="#4682B4"/>
<rect x="943" y="204" width="1" height="15" fill="#FF0000"/>
<rect x="942" y="206" width="3" height="4" fill="#FF0000"/>
<rect x="947" y="202" width="1" height="15" fill="#4682B4"/>
<rect x="946" y="205" width="3" height="5" fill="#4682B4"/>
<rect x="951" y="202" width="1" height="10" fill="#4682B4"/>
<rect x="950" y="204" width="3" height="3" fill="#4682B4"/>
<rect x="955" y="203" width="1" height="6" fill="#FF0000"/>
<rect x="954" y="204" width="3" height="4" fill="#FF0000"/>
<rect x="959" y="206" width="1" height="13" fill="#FF0000"/>
<rect x="958" y="207" width="3" height="7" fill="#FF0000"/>
<rect x="963" y="208" width="1" height="24" fill="#FF0000"/>
<rect x="962" y="210" width="3" height="20" fill="#FF0000"/>
<rect x="967" y="225" width="1" height="15" fill="#FF0000"/>
<rect x="966" y="228" width="3" height="10" fill="#FF0000"/>
<rect x="971" y="228" width="1" height="12" fill="#4682B4"/>
<rect x="970" y="229" width="3" height="8" fill="#4682B4"/>
<rect x="975" y="228" width="1" height="9" fill="#FF0000"/>
<rect x="974" y="229" width="3" height="5" fill="#FF0000"/>
<rect x="979" y="228" width="1" height="10" fill="#4682B4"/>
<rect x="978" y="230" width="3" height="5" fill="#4682B4"/>
<rect x="983" y="227" width="1" height="8" fill="#4682B4"/>
<rect x="982" y="228" width="3" height="4" fill="#4682B4"/>
<rect x="987" y="222" width="1" height="10" fill="#4682B4"/>
<rect x="986" y="223" width="3" height="7" fill="#4682B4"/>
<rect x="991" y="222" width="1" height="10" fill="#FF0000"/>
<rect x="990" y="224" width="3" height="4" fill="#FF0000"/>
<rect x="995" y="224" width="1" height="8" fill="#FF0000"/>
<rect x="994" y="225" width="3" height="4" fill="#FF0000"/>
<rect x="999" y="214" width="1" height="15" fill="#4682B4"/>
<rect x="998" y="223" width="3" height="6" fill="#4682B4"/>
<rect x="1003" y="211" width="1" height="15" fill="#4682B4"/>
<rect x="1002" y="218" width="3" height="8" fill="#4682B4"/>
<rect x="1007" y="215" width="1" height="8" fill="#4682B4"/>
<rect x="1006" y="217" width="3" height="4" fill="#4682B4"/>
<rect x="1011" y="214" width="1" height="19" fill="#FF0000"/>
<rect x="1010" y="216" width="3" height="15" fill="#FF0000"/>
<rect x="1015" y="210" width="1" height="55" fill="#FF0000"/>
<rect x="1014" y="229" width="3" height="17" fill="#FF0000"/>
<rect x="1019" y="211" width="1" height="37" fill="#4682B4"/>
<rect x="1018" y="211" width="3" height="35" fill="#4682B4"/>
<rect x="1023" y="198" width="1" height="23" fill="#4682B4"/>
<rect x="1022" y="202" width="3" height="11" fill="#4682B4"/>
<rect x="1027" y="185" width="1" height="24" fill="#4682B4"/>
<rect x="1026" y="192" width="3" height="12" fill="#4682B4"/>
<rect x="1031" y="185" width="1" height="16" fill="#FF0000"/>
<rect x="1030" y="192" width="3" height="8" fill="#FF0000"/>
<rect x="1035" y="196" width="1" height="12" fill="#FF0000"/>
<rect x="1034" y="198" width="3" height="8" fill="#FF0000"/>
<rect x="1039" y="190" width="1" height="16" fill="#4682B4"/>
<rect x="1038" y="196" width="3" height="9" fill="#4682B4"/>
<rect x="1043" y="194" width="1" height="13" fill="#4682B4"/>
<rect x="1042" y="195" width="3" height="6" fill="#4682B4"/>
<rect x="1047" y="194" width="1" height="7" fill="#FF0000"/>
<rect x="1046" y="196" width="3" height="2" fill="#FF0000"/>
<rect x="1051" y="190" width="1" height="13" fill="#FF0000"/>
<rect x="1050" y="196" width="3" height="5" fill="#FF0000"/>
<rect x="1055" y="196" width="1" height="6" fill="#4682B4"/>
<rect x="1054" y="198" width="3" height="3" fill="#4682B4"/>
<rect x="1059" y="195" width="1" height="13" fill="#FF0000"/>
<rect x="1058" y="198" width="3" height="6" fill="#FF0000"/>
<rect x="1063" y="194" width="1" height="18" fill="#4682B4"/>
<rect x="1062" y="195" width="3" height="9" fill="#4682B4"/>
<rect x="1067" y="192" width="1" height="10" fill="#FF0000"/>
<rect x="1066" y="196" width="3" height="4" fill="#FF0000"/>
<rect x="1071" y="195" width="1" height="9" fill="#FF0000"/>
<rect x="1070" y="197" width="3" height="4" fill="#FF0000"/>
<rect x="1075" y="191" width="1" height="10" fill="#4682B4"/>
<rect x="1074" y="193" width="3" height="7" fill="#4682B4"/>
<rect x="1079" y="192" width="1" height="10" fill="#FF0000"/>
<rect x="1078" y="193" width="3" height="9" fill="#FF0000"/>
<rect x="1083" y="198" width="1" height="9" fill="#4682B4"/>
<rect x="1082" y="199" width="3" height="3" fill="#4682B4"/>
<rect x="1087" y="195" width="1" height="17" fill="#FF0000"/>
<rect x="1086" y="200" width="3" height="8" fill="#FF0000"/>
<rect x="1091" y="197" width="1" height="21" fill="#FF0000"/>
<rect x="1090" y="203" width="3" height="10" fill="#FF0000"/>
<rect x="1095" y="202" width="1" height="34" fill="#FF0000"/>
<rect x="1094" y="203" width="3" height="33" fill="#FF0000"/>
<rect x="1099" y="230" width="1" height="9" fill="#FF0000"/>
<rect x="1098" y="233" width="3" height="5" fill="#FF0000"/>
<rect x="1103" y="237" width="1" height="15" fill="#FF0000"/>
<rect x="1102" y="238" width="3" height="9" fill="#FF0000"/>
<rect x="1107" y="229" width="1" height="17" fill="#4682B4"/>
<rect x="1106" y="234" width="3" height="12" fill="#4682B4"/>
<rect x="3" y="422" width="0" height="0" fill="none"/>
<path d="M4 422.5h3M10 422.5h3M16 422.5h3M22 422.5h3M28 422.5h3M34 422.5h3M40 422.5h3M46 422.5h3M52 422.5h3M58 422.5h3M64 422.5h3M70 422.5h3M76 422.5h3M82 422.5h3M88 422.5h3M94 422.5h3M100 422.5h3M106 422.5h3M112 422.5h3M118 422.5h3M124 422.5h3M130 422.5h3M136 422.5h3M142 422.5h3M148 422.5h3M154 422.5h3M160 422.5h3M166 422.5h3M172 422.5h3M178 422.5h3M184 422.5h3M190 422.5h3M196 422.5h3M202 422.5h3M208 422.5h3M214 422.5h3M220 422.5h3M226 422.5h3M232 422.5h3M238 422.5h3M244 422.5h3M250 422.5h3M256 422.5h3M262 422.5h3M268 422.5h3M274 422.5h3M280 422.5h3M286 422.5h3M292 422.5h3M298 422.5h3M304 422.5h3M310 422.5h3M316 422.5h3M322 422.5h3M328 422.5h3M334 422.5h3M340 422.5h3M346 422.5h3M352 422.5h3M358 422.5h3M364 422.5h3M370 422.5h3M376 422.5h3M382 422.5h3M388 422.5h3M394 422.5h3M400 422.5h3M406 422.5h3M412 422.5h3M418 422.5h3M424 422.5h3M430 422.5h3M436 422.5h3M442 422.5h3M448 422.5h3M454 422.5h3M460 422.5h3M466 422.5h3M472 422.5h3M478 422.5h3M484 422.5h3M490 422.5h3M496 422.5h3M502 422.5h3M508 422.5h3M514 422.5h3M520 422.5h3M526 422.5h3M532 422.5h3M538 422.5h3M544 422.5h3M550 422.5h3M556 422.5h3M562 422.5h3M568 422.5h3M574 422.5h3M580 422.5h3M586 422.5h3M592 422.5h3M598 422.5h3M604 422.5h3M610 422.5h3M616 422.5h3M622 422.5h3M628 422.5h3M634 422.5h3M640 422.5h3M646 422.5h3M652 422.5h3M658 422.5h3M664 422.5h3M670 422.5h3M676 422.5h3M682 422.5h3M688 422.5h3M694 422.5h3M700 422.5h3M706 422.5h3M712 422.5h3M718 422.5h3M724 422.5h3M730 422.5h3M736 422.5h3M742 422.5h3M748 422.5h3M754 422.5h3M760 422.5h3M766 422.5h3M772 422.5h3M778 422.5h3M784 422.5h3M790 422.5h3M796 422.5h3M802 422.5h3M808 422.5h3M814 422.5h3M820 422.5h3M826 422.5h3M832 422.5h3M838 422.5h3M844 422.5h3M850 422.5h3M856 422.5h3M862 422.5h3M868 422.5h3M874 422.5h3M880 422.5h3M886 422.5h3M892 422.5h3M898 422.5h3M904 422.5h3M910 422.5h3M916 422.5h3M922 422.5h3M928 422.5h3M934 422.5h3M940 422.5h3M946 422.5h3M952 422.5h3M958 422.5h3M964 422.5h3M970 422.5h3M976 422.5h3M982 422.5h3M988 422.5h3M994 422.5h3M1000 422.5h3M1006 422.5h3M1012 422.5h3M1018 422.5h3M1024 422.5h3M1030 422.5h3M1036 422.5h3M1042 422.5h3M1048 422.5h3M1054 422.5h3M1060 422.5h3M1066 422.5h3M1072 422.5h3M1078 422.5h3M1084 422.5h3M1090 422.5h3M1096 422.5h3M1102 422.5h3M1108 422.5h3M1114 422.5h3M1120 422.5h3M1126 422.5h3M1132 422.5h3M1138 422.5h3M1144 422.5h3M1150 422.5h3M1156 422.5h3M1162 422.5h3M1168 422.5h3M1174 422.5h3M1180 422.5h3M1186 422.5h3M1192 422.5h3M1198 422.5h3M1204 422.5h3M1210 422.5h3M1216 422.5h3M1222 422.5h3M1228 422.5h3M1234 422.5h3M1240 422.5h3M1246 422.5h3M1252 422.5h3M1258 422.5h3M1264 422.5h3M1270 422.5h3M1276 422.5h3M1282 422.5h3M1288 422.5h3M1294 422.5h3M1300 422.5h3M1306 422.5h3M1312 422.5h3M1318 422.5h3M1324 422.5h3M1330 422.5h3M1336 422.5h3M1342 422.5h3M1348 422.5h3M1354 422.5h3M1360 422.5h3M1366 422.5h3M1372 422.5h3M1378 422.5h3M1384 422.5h3M1390 422.5h3" stroke="#C0C0C0" stroke-width="1" fill="none"/>
<path d="M4 473.5h3M10 473.5h3M16 473.5h3M22 473.5h3M28 473.5h3M34 473.5h3M40 473.5h3M46 473.5h3M52 473.5h3M58 473.5h3M64 473.5h3M70 473.5h3M76 473.5h3M82 473.5h3M88 473.5h3M94 473.5h3M100 473.5h3M106 473.5h3M112 473.5h3M118 473.5h3M124 473.5h3M130 473.5h3M136 473.5h3M142 473.5h3M148 473.5h3M154 473.5h3M160 473.5h3M166 473.5h3M172 473.5h3M178 473.5h3M184 473.5h3M190 473.5h3M196 473.5h3M202 473.5h3M208 473.5h3M214 473.5h3M220 473.5h3M226 473.5h3M232 473.5h3M238 473.5h3M244 473.5h3M250 473.5h3M256 473.5h3M262 473.5h3M268 473.5h3M274 473.5h3M280 473.5h3M286 473.5h3M292 473.5h3M298 473.5h3M304 473.5h3M310 473.5h3M316 473.5h3M322 473.5h3M328 473.5h3M334 473.5h3M340 473.5h3M346 473.5h3M352 473.5h3M358 473.5h3M364 473.5h3M370 473.5h3M376 473.5h3M382 473.5h3M388 473.5h3M394 473.5h3M400 473.5h3M406 473.5h3M412 473.5h3M418 473.5h3M424 473.5h3M430 473.5h3M436 473.5h3M442 473.5h3M448 473.5h3M454 473.5h3M460 473.5h3M466 473.5h3M472 473.5h3M478 473.5h3M484 473.5h3M490 473.5h3M496 473.5h3M502 473.5h3M508 473.5h3M514 473.5h3M520 473.5h3M526 473.5h3M532 473.5h3M538 473.5h3M544 473.5h3M550 473.5h3M556 473.5h3M562 473.5h3M568 473.5h3M574 473.5h3M580 473.5h3M586 473.5h3M592 473.5h3M598 473.5h3M604 473.5h3M610 473.5h3M616 473.5h3M622 473.5h3M628 473.5h3M634 473.5h3M640 473.5h3M646 473.5h3M652 473.5h3M658 473.5h3M664 473.5h3M670 473.5h3M676 473.5h3M682 473.5h3M688 473.5h3M694 473.5h3M700 473.5h3M706 473.5h3M712 473.5h3M718 473.5h3M724 473.5h3M730 473.5h3M736 473.5h3M742 473.5h3M748 473.5h3M754 473.5h3M760 473.5h3M766 473.5h3M772 473.5h3M778 473.5h3M784 473.5h3M790 473.5h3M796 473.5h3M802 473.5h3M808 473.5h3M814 473.5h3M820 473.5h3M826 473.5h3M832 473.5h3M838 473.5h3M844 473.5h3M850 473.5h3M856 473.5h3M862 473.5h3M868 473.5h3M874 473.5h3M880 473.5h3M886 473.5h3M892 473.5h3M898 473.5h3M904 473.5h3M910 473.5h3M916 473.5h3M922 473.5h3M928 473.5h3M934 473.5h3M940 473.5h3M946 473.5h3M952 473.5h3M958 473.5h3M964 473.5h3M970 473.5h3M976 473.5h3M982 473.5h3M988 473.5h3M994 473.5h3M1000 473.5h3M1006 473.5h3M1012 473.5h3M1018 473.5h3M1024 473.5h3M1030 473.5h3M1036 473.5h3M1042 473.5h3M1048 473.5h3M1054 473.5h3M1060 473.5h3M1066 473.5h3M1072 473.5h3M1078 473.5h3M1084 473.5h3M1090 473.5h3M1096 473.5h3M1102 473.5h3M1108 473.5h3M1114 473.5h3M1120 473.5h3M1126 473.5h3M1132 473.5h3M1138 473.5h3M1144 473.5h3M1150 473.5h3M1156 473.5h3M1162 473.5h3M1168 473.5h3M1174 473.5h3M1180 473.5h3M1186 473.5h3M1192 473.5h3M1198 473.5h3M1204 473.5h3M1210 473.5h3M1216 473.5h3M1222 473.5h3M1228 473.5h3M1234 473.5h3M1240 473.5h3M1246 473.5h3M1252 473.5h3M1258 473.5h3M1264 473.5h3M1270 473.5h3M1276 473.5h3M1282 473.5h3M1288 473.5h3M1294 473.5h3M1300 473.5h3M1306 473.5h3M1312 473.5h3M1318 473.5h3M1324 473.5h3M1330 473.5h3M1336 473.5h3M1342 473.5h3M1348 473.5h3M1354 473.5h3M1360 473.5h3M1366 473.5h3M1372 473.5h3M1378 473.5h3M1384 473.5h3M1390 473.5h3" stroke="#C0C0C0" stroke-width="1" fill="none"/>
<polyline points="3.5,426.7 7.5,419.4 11.5,419.4 15.5,424.2 19.5,425.0 23.5,425.8 27.5,427.0 31.5,427.0 35.5,424.2 39.5,430.0 43.5,434.0 47.5,443.6 51.5,453.3 55.5,463.0 59.5,471.0 63.5,475.0 67.5,475.0 71.5,471.0 75.5,459.8 79.5,448.5 83.5,437.2 87.5,430.7 91.5,425.0 95.5,424.2 99.5,431.5 103.5,442.0 107.5,451.7 111.5,451.7 115.5,448.5 119.5,442.8 123.5,442.0 127.5,446.0 131.5,448.5 135.5,455.0 139.5,458.0 143.5,445.2 147.5,427.5 151.5,418.6 155.5,413.7 159.5,412.0 163.5,413.0 167.5,421.0 171.5,430.0 175.5,437.2 179.5,442.8 183.5,456.5 187.5,468.7 191.5,471.0 195.5,469.5 199.5,471.0 203.5,471.0 207.5,471.0 211.5,467.0 215.5,455.0 219.5,442.8 223.5,432.3 227.5,428.3 231.5,425.0 235.5,426.7 239.5,434.0 243.5,446.8 247.5,459.8 251.5,465.4 255.5,464.6 259.5,456.5 263.5,448.5 267.5,440.4 271.5,443.6 275.5,459.8 279.5,467.0 283.5,469.5 287.5,473.5 291.5,477.5 295.5,479.2 299.5,476.7 303.5,471.0 307.5,459.8 311.5,448.5 315.5,438.0 319.5,430.7 323.5,434.0 327.5,442.0 331.5,446.8 335.5,448.5 339.5,444.4 343.5,441.2 347.5,438.8 351.5,439.6 355.5,438.8 359.5,436.3 363.5,433.1 367.5,434.7 371.5,442.0 375.5,448.5 379.5,453.3 383.5,455.0 387.5,450.9 391.5,446.8 395.5,446.8 399.5,450.9 403.5,455.7 407.5,460.6 411.5,466.2 415.5,471.0 419.5,472.7 423.5,473.5 427.5,474.3 431.5,475.9 435.5,473.5 439.5,471.0 443.5,471.9 447.5,474.3 451.5,476.7 455.5,479.2 459.5,475.9 463.5,469.5 467.5,463.8 471.5,458.2 475.5,446.8 479.5,441.2 483.5,436.3 487.5,432.3 491.5,428.3 495.5,428.3 499.5,428.3 503.5,428.3 507.5,431.5 511.5,436.3 515.5,443.6 519.5,443.6 523.5,442.8 527.5,438.8 531.5,442.8 535.5,448.5 539.5,453.3 543.5,451.7 547.5,442.8 551.5,432.3 555.5,425.8 559.5,423.4 563.5,427.5 567.5,441.2 571.5,455.7 575.5,460.6 579.5,454.1 583.5,442.8 587.5,434.0 591.5,429.9 595.5,428.3 599.5,424.2 603.5,419.4 607.5,416.2 611.5,416.2 615.5,416.2 619.5,423.4 623.5,433.1 627.5,442.0 631.5,446.0 635.5,451.7 639.5,459.0 643.5,464.6 647.5,471.9 651.5,477.5 655.5,477.5 659.5,475.1 663.5,473.5 667.5,475.1 671.5,474.3 675.5,472.7 679.5,461.4 683.5,445.2 687.5,432.3 691.5,422.6 695.5,417.8 699.5,420.2 703.5,425.0 707.5,429.0 711.5,434.7 715.5,446.8 719.5,458.2 723.5,455.0 727.5,442.0 731.5,427.5 735.5,414.5 739.5,409.7 743.5,408.9 747.5,408.1 751.5,409.7 755.5,416.2 759.5,425.8 763.5,437.2 767.5,446.8 771.5,453.3 775.5,451.7 779.5,447.7 783.5,445.2 787.5,451.7 791.5,460.6 795.5,469.5 799.5,475.9 803.5,475.9 807.5,473.5 811.5,471.0 815.5,467.0 819.5,462.2 823.5,458.2 827.5,457.4 831.5,457.4 835.5,458.2 839.5,463.0 843.5,467.9 847.5,472.7 851.5,471.0 855.5,467.9 859.5,464.6 863.5,462.2 867.5,456.5 871.5,446.8 875.5,435.5 879.5,424.2 883.5,417.8 887.5,415.3 891.5,418.6 895.5,424.2 899.5,430.7 903.5,440.4 907.5,455.0 911.5,467.9 915.5,472.7 919.5,473.5 923.5,471.0 927.5,471.0 931.5,473.5 935.5,475.1 939.5,474.3 943.5,467.9 947.5,458.2 951.5,446.8 955.5,437.2 959.5,428.3 963.5,434.7 967.5,455.0 971.5,471.0 975.5,475.1 979.5,471.0 983.5,467.9 987.5,458.2 991.5,446.8 995.5,432.3 999.5,431.5 1003.5,433.9 1007.5,437.2 1011.5,442.8 1015.5,448.5 1019.5,450.1 1023.5,438.8 1027.5,427.5 1031.5,418.6 1035.5,419.4 1039.5,424.2 1043.5,425.8 1047.5,432.3 1051.5,438.8 1055.5,443.6 1059.5,448.5 1063.5,448.5 1067.5,447.7 1071.5,440.4 1075.5,433.9 1079.5,432.3 1083.5,437.2 1087.5,446.8 1091.5,456.5 1095.5,466.2 1099.5,474.3 1103.5,479.2 1107.5,481.6" fill="none" stroke="#FF0000" stroke-width="1" stroke-dasharray="3 3"/>
<polyline points="3.5,419.0 7.5,416.2 11.5,420.7 15.5,425.8 19.5,427.0 23.5,426.7 27.5,427.8 31.5,426.7 35.5,422.6 39.5,429.0 43.5,440.4 47.5,450.0 51.5,457.4 55.5,466.0 59.5,479.0 63.5,474.6 67.5,474.6 71.5,464.6 75.5,448.5 79.5,436.3 83.5,428.3 87.5,425.0 91.5,420.2 95.5,427.5 99.5,442.0 103.5,455.7 107.5,455.7 111.5,443.3 115.5,444.4 119.5,440.4 123.5,445.2 127.5,447.7 131.5,453.3 135.5,463.8 139.5,451.7 143.5,422.6 147.5,416.2 151.5,413.7 155.5,411.3 159.5,410.5 163.5,413.7 167.5,430.7 171.5,436.3 175.5,441.2 179.5,446.0 183.5,467.9 187.5,479.2 191.5,468.7 195.5,467.9 199.5,470.3 203.5,472.7 207.5,473.5 211.5,459.8 215.5,443.6 219.5,427.5 223.5,426.7 227.5,426.2 231.5,425.0 235.5,427.5 239.5,443.6 243.5,461.4 247.5,467.9 251.5,471.0 255.5,453.3 259.5,446.8 263.5,432.3 267.5,439.6 271.5,455.0 275.5,471.0 279.5,465.4 283.5,471.0 287.5,477.5 291.5,481.6 295.5,481.6 299.5,477.5 303.5,469.5 307.5,455.0 311.5,437.2 315.5,421.0 319.5,429.9 323.5,438.8 327.5,448.1 331.5,448.1 335.5,449.3 339.5,443.6 343.5,437.2 347.5,438.0 351.5,446.8 355.5,434.7 359.5,433.1 363.5,429.9 367.5,434.7 371.5,446.8 375.5,454.1 379.5,460.6 383.5,451.7 387.5,445.2 391.5,443.6 395.5,449.3 399.5,454.1 403.5,458.2 407.5,462.2 411.5,469.5 415.5,471.0 419.5,475.1 423.5,473.5 427.5,474.3 431.5,476.7 435.5,470.3 439.5,470.3 443.5,471.0 447.5,479.2 451.5,479.2 455.5,479.2 459.5,480.0 463.5,461.4 467.5,455.0 471.5,447.7 475.5,445.2 479.5,438.0 483.5,437.2 487.5,429.9 491.5,431.5 495.5,424.2 499.5,429.0 503.5,429.0 507.5,432.3 511.5,440.4 515.5,449.3 519.5,447.7 523.5,437.2 527.5,439.6 531.5,442.8 535.5,451.7 539.5,459.8 543.5,447.7 547.5,434.7 551.5,425.8 555.5,421.0 559.5,423.4 563.5,433.9 567.5,455.7 571.5,469.5 575.5,457.4 579.5,438.8 583.5,430.7 587.5,428.3 591.5,430.7 595.5,425.0 599.5,420.2 603.5,417.8 607.5,415.3 611.5,415.3 615.5,416.2 619.5,429.9 623.5,442.0 627.5,450.9 631.5,451.4 635.5,455.0 639.5,467.9 643.5,473.5 647.5,483.2 651.5,479.2 655.5,474.3 659.5,472.7 663.5,473.5 667.5,480.8 671.5,470.3 675.5,462.2 679.5,450.1 683.5,434.7 687.5,418.6 691.5,414.5 695.5,418.6 699.5,423.4 703.5,427.5 707.5,429.9 711.5,440.4 715.5,466.2 719.5,466.2 723.5,448.5 727.5,424.2 731.5,412.1 735.5,409.7 739.5,408.1 743.5,408.1 747.5,408.1 751.5,410.5 755.5,423.4 759.5,433.9 763.5,447.7 767.5,451.7 771.5,455.7 775.5,448.5 779.5,442.0 783.5,446.8 787.5,461.4 791.5,471.0 795.5,475.1 799.5,480.0 803.5,473.5 807.5,471.0 811.5,467.9 815.5,464.6 819.5,455.7 823.5,457.4 827.5,457.4 831.5,457.4 835.5,457.4 839.5,464.6 843.5,476.7 847.5,472.7 851.5,467.9 855.5,466.2 859.5,463.0 863.5,459.8 867.5,450.1 871.5,438.8 875.5,429.0 879.5,413.7 883.5,413.7 887.5,414.5 891.5,421.0 895.5,429.0 899.5,438.0 903.5,451.7 907.5,466.2 911.5,474.3 915.5,473.5 919.5,473.5 923.5,466.2 927.5,470.3 931.5,475.1 935.5,479.2 939.5,469.5 943.5,458.2 947.5,446.8 951.5,433.9 955.5,420.2 959.5,431.5 963.5,454.1 967.5,477.5 971.5,476.7 975.5,473.5 979.5,468.7 983.5,461.4 987.5,443.6 991.5,425.0 995.5,429.0 999.5,438.8 1003.5,441.2 1007.5,438.8 1011.5,446.8 1015.5,456.5 1019.5,440.4 1023.5,426.7 1027.5,413.7 1031.5,416.2 1035.5,420.2 1039.5,425.8 1043.5,433.1 1047.5,437.2 1051.5,441.2 1055.5,446.0 1059.5,453.3 1063.5,446.0 1067.5,442.0 1071.5,434.7 1075.5,429.0 1079.5,433.1 1083.5,440.4 1087.5,455.7 1091.5,467.0 1095.5,475.1 1099.5,480.0 1103.5,483.2 1107.5,478.4" fill="none" stroke="#20B2AA" stroke-width="1"/>
<rect x="3" y="494" width="1" height="73" fill="#FA8072"/>
<rect x="7" y="494" width="1" height="73" fill="#FA8072"/>
<rect x="11" y="494" width="1" height="73" fill="#FA8072"/>
<rect x="15" y="494" width="1" height="73" fill="#FA8072"/>
<rect x="18" y="493" width="3" height="73" fill="#4682B4"/>
<rect x="22" y="493" width="3" height="73" fill="#4682B4"/>
<rect x="26" y="493" width="3" height="73" fill="#4682B4"/>
<rect x="30" y="493" width="3" height="73" fill="#4682B4"/>
<rect x="34" y="493" width="3" height="73" fill="#4682B4"/>
<rect x="38" y="493" width="3" height="73" fill="#4682B4"/>
<rect x="42" y="493" width="3" height="73" fill="#4682B4"/>
<rect x="46" y="493" width="3" height="73" fill="#4682B4"/>
<rect x="50" y="493" width="3" height="73" fill="#4682B4"/>
<rect x="55" y="494" width="1" height="73" fill="#4682B4"/>
<rect x="59" y="494" width="1" height="73" fill="#4682B4"/>
<rect x="63" y="494" width="1" height="73" fill="#4682B4"/>
<rect x="67" y="494" width="1" height="73" fill="#4682B4"/>
<rect x="71" y="494" width="1" height="73" fill="#4682B4"/>
<rect x="74" y="493" width="3" height="73" fill="#4682B4"/>
<rect x="78" y="493" width="3" height="73" fill="#4682B4"/>
<rect x="83" y="494" width="1" height="73" fill="#4682B4"/>
<rect x="86" y="493" width="3" height="73" fill="#4682B4"/>
<rect x="90" y="493" width="3" height="73" fill="#4682B4"/>
<rect x="94" y="493" width="3" height="73" fill="#4682B4"/>
<rect x="99" y="494" width="1" height="73" fill="#4682B4"/>
<rect x="103" y="494" width="1" height="73" fill="#4682B4"/>
<rect x="107" y="494" width="1" height="73" fill="#4682B4"/>
<rect x="110" y="493" width="3" height="73" fill="#4682B4"/>
<rect x="114" y="493" width="3" height="73" fill="#4682B4"/>
<rect x="118" y="493" width="3" height="73" fill="#4682B4"/>
<rect x="122" y="493" width="3" height="73" fill="#4682B4"/>
<rect x="126" y="493" width="3" height="73" fill="#4682B4"/>
<rect x="130" y="493" width="3" height="73" fill="#FF0000"/>
<rect x="134" y="493" width="3" height="73" fill="#FF0000"/>
<rect x="138" y="493" width="3" height="73" fill="#4682B4"/>
<rect x="142" y="493" width="3" height="73" fill="#4682B4"/>
<rect x="146" y="493" width="3" height="73" fill="#4682B4"/>
<rect x="150" y="493" width="3" height="73" fill="#4682B4"/>
<rect x="154" y="493" width="3" height="73" fill="#4682B4"/>
<rect x="158" y="493" width="3" height="73" fill="#4682B4"/>
<rect x="162" y="493" width="3" height="73" fill="#4682B4"/>
<rect x="166" y="493" width="3" height="73" fill="#4682B4"/>
<rect x="170" y="493" width="3" height="73" fill="#4682B4"/>
<rect x="174" y="493" width="3" height="73" fill="#4682B4"/>
<rect x="178" y="493" width="3" height="73" fill="#4682B4"/>
<rect x="183" y="494" width="1" height="73" fill="#4682B4"/>
<rect x="187" y="494" width="1" height="73" fill="#4682B4"/>
<rect x="191" y="494" width="1" height="73" fill="#4682B4"/>
<rect x="195" y="494" width="1" height="73" fill="#4682B4"/>
<rect x="198" y="493" width="3" height="73" fill="#FF0000"/>
<rect x="202" y="493" width="3" height="73" fill="#FF0000"/>
<rect x="206" y="493" width="3" height="73" fill="#FF0000"/>
<rect x="210" y="493" width="3" height="73" fill="#FF0000"/>
<rect x="214" y="493" width="3" height="73" fill="#FF0000"/>
<rect x="218" y="493" width="3" height="73" fill="#FF0000"/>
<rect x="222" y="493" width="3" height="73" fill="#FF0000"/>
<rect x="226" y="493" width="3" height="73" fill="#FF0000"/>
<rect x="230" y="493" width="3" height="73" fill="#4682B4"/>
<rect x="235" y="494" width="1" height="73" fill="#4682B4"/>
<rect x="238" y="493" width="3" height="73" fill="#FF0000"/>
<rect x="242" y="493" width="3" height="73" fill="#FF0000"/>
<rect x="246" y="493" width="3" height="73" fill="#FF0000"/>
<rect x="250" y="493" width="3" height="73" fill="#FF0000"/>
<rect x="254" y="493" width="3" height="73" fill="#FF0000"/>
<rect x="258" y="493" width="3" height="73" fill="#FF0000"/>
<rect x="262" y="493" width="3" height="73" fill="#FF0000"/>
<rect x="266" y="493" width="3" height="73" fill="#FF0000"/>
<rect x="270" y="493" width="3" height="73" fill="#FF0000"/>
<rect x="274" y="493" width="3" height="73" fill="#FF0000"/>
<rect x="278" y="493" width="3" height="73" fill="#FF0000"/>
<rect x="282" y="493" width="3" height="73" fill="#FF0000"/>
<rect x="286" y="493" width="3" height="73" fill="#FF0000"/>
<rect x="290" y="493" width="3" height="73" fill="#FF0000"/>
<rect x="294" y="493" width="3" height="73" fill="#FF0000"/>
<rect x="298" y="493" width="3" height="73" fill="#FF0000"/>
<rect x="302" y="493" width="3" height="73" fill="#FF0000"/>
<rect x="306" y="493" width="3" height="73" fill="#FF0000"/>
<rect x="310" y="493" width="3" height="73" fill="#FF0000"/>
<rect x="314" y="493" width="3" height="73" fill="#FF0000"/>
<rect x="318" y="493" width="3" height="73" fill="#FF0000"/>
<rect x="322" y="493" width="3" height="73" fill="#FF0000"/>
<rect x="326" y="493" width="3" height="73" fill="#FF0000"/>
<rect x="330" y="493" width="3" height="73" fill="#FF0000"/>
<rect x="334" y="493" width="3" height="73" fill="#FF0000"/>
<rect x="338" y="493" width="3" height="73" fill="#FF0000"/>
<rect x="343" y="494" width="1" height="73" fill="#FA8072"/>
<rect x="347" y="494" width="1" height="73" fill="#FA8072"/>
<rect x="350" y="493" width="3" height="73" fill="#FF0000"/>
<rect x="355" y="494" width="1" height="73" fill="#FA8072"/>
<rect x="359" y="494" width="1" height="73" fill="#FA8072"/>
<rect x="362" y="493" width="3" height="73" fill="#FF0000"/>
<rect x="367" y="494" width="1" height="73" fill="#FA8072"/>
<rect x="370" y="493" width="3" height="73" fill="#FF0000"/>
<rect x="374" y="493" width="3" height="73" fill="#FF0000"/>
<rect x="378" y="493" width="3" height="73" fill="#FF0000"/>
<rect x="382" y="493" width="3" height="73" fill="#FF0000"/>
<rect x="387" y="494" width="1" height="73" fill="#FA8072"/>
<rect x="390" y="493" width="3" height="73" fill="#FF0000"/>
<rect x="394" y="493" width="3" height="73" fill="#FF0000"/>
<rect x="398" y="493" width="3" height="73" fill="#FF0000"/>
<rect x="402" y="493" width="3" height="73" fill="#FF0000"/>
<rect x="407" y="494" width="1" height="73" fill="#FA8072"/>
<rect x="410" y="493" width="3" height="73" fill="#FF0000"/>
<rect x="414" y="493" width="3" height="73" fill="#FF0000"/>
<rect x="418" y="493" width="3" height="73" fill="#FF0000"/>
<rect x="422" y="493" width="3" height="73" fill="#FF0000"/>
<rect x="426" y="493" width="3" height="73" fill="#FF0000"/>
<rect x="430" y="493" width="3" height="73" fill="#FF0000"/>
<rect x="434" y="493" width="3" height="73" fill="#FF0000"/>
<rect x="438" y="493" width="3" height="73" fill="#FF0000"/>
<rect x="442" y="493" width="3" height="73" fill="#FF0000"/>
<rect x="446" y="493" width="3" height="73" fill="#FF0000"/>
<rect x="450" y="493" width="3" height="73" fill="#FF0000"/>
<rect x="454" y="493" width="3" height="73" fill="#FF0000"/>
<rect x="458" y="493" width="3" height="73" fill="#FF0000"/>
<rect x="462" y="493" width="3" height="73" fill="#FF0000"/>
<rect x="466" y="493" width="3" height="73" fill="#FF0000"/>
<rect x="470" y="493" width="3" height="73" fill="#FF0000"/>
<rect x="474" y="493" width="3" height="73" fill="#FF0000"/>
<rect x="478" y="493" width="3" height="73" fill="#FF0000"/>
<rect x="482" y="493" width="3" height="73" fill="#FF0000"/>
<rect x="486" y="493" width="3" height="73" fill="#FF0000"/>
<rect x="491" y="494" width="1" height="73" fill="#4682B4"/>
<rect x="495" y="494" width="1" height="73" fill="#4682B4"/>
<rect x="498" y="493" width="3" height="73" fill="#4682B4"/>
<rect x="502" y="493" width="3" height="73" fill="#4682B4"/>
<rect x="507" y="494" width="1" height="73" fill="#4682B4"/>
<rect x="511" y="494" width="1" height="73" fill="#4682B4"/>
<rect x="515" y="494" width="1" height="73" fill="#4682B4"/>
<rect x="519" y="494" width="1" height="73" fill="#4682B4"/>
<rect x="522" y="493" width="3" height="73" fill="#4682B4"/>
<rect x="526" y="493" width="3" height="73" fill="#4682B4"/>
<rect x="531" y="494" width="1" height="73" fill="#4682B4"/>
<rect x="535" y="494" width="1" height="73" fill="#4682B4"/>
<rect x="539" y="494" width="1" height="73" fill="#4682B4"/>
<rect x="542" y="493" width="3" height="73" fill="#4682B4"/>
<rect x="546" y="493" width="3" height="73" fill="#4682B4"/>
<rect x="550" y="493" width="3" height="73" fill="#4682B4"/>
<rect x="554" y="493" width="3" height="73" fill="#4682B4"/>
<rect x="558" y="493" width="3" height="73" fill="#4682B4"/>
<rect x="562" y="493" width="3" height="73" fill="#4682B4"/>
<rect x="567" y="494" width="1" height="73" fill="#4682B4"/>
<rect x="571" y="494" width="1" height="73" fill="#4682B4"/>
<rect x="574" y="493" width="3" height="73" fill="#4682B4"/>
<rect x="578" y="493" width="3" height="73" fill="#4682B4"/>
<rect x="583" y="494" width="1" height="73" fill="#4682B4"/>
<rect x="587" y="494" width="1" height="73" fill="#4682B4"/>
<rect x="590" y="493" width="3" height="73" fill="#4682B4"/>
<rect x="594" y="493" width="3" height="73" fill="#4682B4"/>
<rect x="598" y="493" width="3" height="73" fill="#4682B4"/>
<rect x="602" y="493" width="3" height="73" fill="#4682B4"/>
<rect x="606" y="493" width="3" height="73" fill="#4682B4"/>
<rect x="610" y="493" width="3" height="73" fill="#4682B4"/>
<rect x="614" y="493" width="3" height="73" fill="#4682B4"/>
<rect x="618" y="493" width="3" height="73" fill="#4682B4"/>
<rect x="622" y="493" width="3" height="73" fill="#4682B4"/>
<rect x="626" y="493" width="3" height="73" fill="#4682B4"/>
<rect x="630" y="493" width="3" height="73" fill="#4682B4"/>
<rect x="634" y="493" width="3" height="73" fill="#4682B4"/>
<rect x="639" y="494" width="1" height="73" fill="#4682B4"/>
<rect x="643" y="494" width="1" height="73" fill="#4682B4"/>
<rect x="647" y="494" width="1" height="73" fill="#4682B4"/>
<rect x="651" y="494" width="1" height="73" fill="#4682B4"/>
<rect x="655" y="494" width="1" height="73" fill="#4682B4"/>
<rect x="658" y="493" width="3" height="73" fill="#FF0000"/>
<rect x="662" y="493" width="3" height="73" fill="#FF0000"/>
<rect x="666" y="493" width="3" height="73" fill="#FF0000"/>
<rect x="670" y="493" width="3" height="73" fill="#FF0000"/>
<rect x="674" y="493" width="3" height="73" fill="#FF0000"/>
<rect x="678" y="493" width="3" height="73" fill="#FF0000"/>
<rect x="682" y="493" width="3" height="73" fill="#FF0000"/>
<rect x="687" y="494" width="1" height="73" fill="#FA8072"/>
<rect x="691" y="494" width="1" height="73" fill="#FA8072"/>
<rect x="695" y="494" width="1" height="73" fill="#FA8072"/>
<rect x="699" y="494" width="1" height="73" fill="#FA8072"/>
<rect x="703" y="494" width="1" height="73" fill="#FA8072"/>
<rect x="706" y="493" width="3" height="73" fill="#4682B4"/>
<rect x="711" y="494" width="1" height="73" fill="#FA8072"/>
<rect x="715" y="494" width="1" height="73" fill="#FA8072"/>
<rect x="719" y="494" width="1" height="73" fill="#FA8072"/>
<rect x="722" y="493" width="3" height="73" fill="#4682B4"/>
<rect x="726" y="493" width="3" height="73" fill="#4682B4"/>
<rect x="730" y="493" width="3" height="73" fill="#4682B4"/>
<rect x="734" y="493" width="3" height="73" fill="#4682B4"/>
<rect x="738" y="493" width="3" height="73" fill="#4682B4"/>
<rect x="742" y="493" width="3" height="73" fill="#4682B4"/>
<rect x="746" y="493" width="3" height="73" fill="#4682B4"/>
<rect x="750" y="493" width="3" height="73" fill="#4682B4"/>
<rect x="754" y="493" width="3" height="73" fill="#4682B4"/>
<rect x="758" y="493" width="3" height="73" fill="#4682B4"/>
<rect x="762" y="493" width="3" height="73" fill="#4682B4"/>
<rect x="766" y="493" width="3" height="73" fill="#4682B4"/>
<rect x="770" y="493" width="3" height="73" fill="#4682B4"/>
<rect x="774" y="493" width="3" height="73" fill="#4682B4"/>
<rect x="778" y="493" width="3" height="73" fill="#4682B4"/>
<rect x="782" y="493" width="3" height="73" fill="#4682B4"/>
<rect x="786" y="493" width="3" height="73" fill="#4682B4"/>
<rect x="790" y="493" width="3" height="73" fill="#4682B4"/>
<rect x="795" y="494" width="1" height="73" fill="#4682B4"/>
<rect x="799" y="494" width="1" height="73" fill="#4682B4"/>
<rect x="803" y="494" width="1" height="73" fill="#4682B4"/>
<rect x="807" y="494" width="1" height="73" fill="#4682B4"/>
<rect x="811" y="494" width="1" height="73" fill="#4682B4"/>
<rect x="815" y="494" width="1" height="73" fill="#4682B4"/>
<rect x="819" y="494" width="1" height="73" fill="#4682B4"/>
<rect x="823" y="494" width="1" height="73" fill="#4682B4"/>
<rect x="827" y="494" width="1" height="73" fill="#4682B4"/>
<rect x="831" y="494" width="1" height="73" fill="#4682B4"/>
<rect x="835" y="494" width="1" height="73" fill="#4682B4"/>
<rect x="838" y="493" width="3" height="73" fill="#FF0000"/>
<rect x="842" y="493" width="3" height="73" fill="#FF0000"/>
<rect x="846" y="493" width="3" height="73" fill="#FF0000"/>
<rect x="850" y="493" width="3" height="73" fill="#FF0000"/>
<rect x="854" y="493" width="3" height="73" fill="#FF0000"/>
<rect x="858" y="493" width="3" height="73" fill="#FF0000"/>
<rect x="862" y="493" width="3" height="73" fill="#FF0000"/>
<rect x="866" y="493" width="3" height="73" fill="#FF0000"/>
<rect x="870" y="493" width="3" height="73" fill="#FF0000"/>
<rect x="874" y="493" width="3" height="73" fill="#FF0000"/>
<rect x="879" y="494" width="1" height="73" fill="#FA8072"/>
<rect x="883" y="494" width="1" height="73" fill="#FA8072"/>
<rect x="887" y="494" width="1" height="73" fill="#FA8072"/>
<rect x="890" y="493" width="3" height="73" fill="#FF0000"/>
<rect x="895" y="494" width="1" height="73" fill="#FA8072"/>
<rect x="899" y="494" width="1" height="73" fill="#FA8072"/>
<rect x="902" y="493" width="3" height="73" fill="#FF0000"/>
<rect x="906" y="493" width="3" height="73" fill="#FF0000"/>
<rect x="910" y="493" width="3" height="73" fill="#FF0000"/>
<rect x="914" y="493" width="3" height="73" fill="#FF0000"/>
<rect x="918" y="493" width="3" height="73" fill="#FF0000"/>
<rect x="922" y="493" width="3" height="73" fill="#FF0000"/>
<rect x="926" y="493" width="3" height="73" fill="#FF0000"/>
<rect x="930" y="493" width="3" height="73" fill="#FF0000"/>
<rect x="934" y="493" width="3" height="73" fill="#FF0000"/>
<rect x="938" y="493" width="3" height="73" fill="#FF0000"/>
<rect x="942" y="493" width="3" height="73" fill="#FF0000"/>
<rect x="946" y="493" width="3" height="73" fill="#FF0000"/>
<rect x="950" y="493" width="3" height="73" fill="#FF0000"/>
<rect x="954" y="493" width="3" height="73" fill="#FF0000"/>
<rect x="958" y="493" width="3" height="73" fill="#FF0000"/>
<rect x="962" y="493" width="3" height="73" fill="#FF0000"/>
<rect x="966" y="493" width="3" height="73" fill="#FF0000"/>
<rect x="970" y="493" width="3" height="73" fill="#FF0000"/>
<rect x="974" y="493" width="3" height="73" fill="#FF0000"/>
<rect x="978" y="493" width="3" height="73" fill="#FF0000"/>
<rect x="982" y="493" width="3" height="73" fill="#FF0000"/>
<rect x="986" y="493" width="3" height="73" fill="#FF0000"/>
<rect x="990" y="493" width="3" height="73" fill="#FF0000"/>
<rect x="994" y="493" width="3" height="73" fill="#FF0000"/>
<rect x="999" y="494" width="1" height="73" fill="#FA8072"/>
<rect x="1003" y="494" width="1" height="73" fill="#FA8072"/>
<rect x="1007" y="494" width="1" height="73" fill="#FA8072"/>
<rect x="1010" y="493" width="3" height="73" fill="#FF0000"/>
<rect x="1014" y="493" width="3" height="73" fill="#FF0000"/>
<rect x="1018" y="493" width="3" height="73" fill="#FF0000"/>
<rect x="1022" y="493" width="3" height="73" fill="#4682B4"/>
<rect x="1026" y="493" width="3" height="73" fill="#4682B4"/>
<rect x="1030" y="493" width="3" height="73" fill="#4682B4"/>
<rect x="1035" y="494" width="1" height="73" fill="#4682B4"/>
<rect x="1038" y="493" width="3" height="73" fill="#4682B4"/>
<rect x="1043" y="494" width="1" height="73" fill="#4682B4"/>
<rect x="1047" y="494" width="1" height="73" fill="#4682B4"/>
<rect x="1050" y="493" width="3" height="73" fill="#4682B4"/>
<rect x="1054" y="493" width="3" height="73" fill="#4682B4"/>
<rect x="1059" y="494" width="1" height="73" fill="#4682B4"/>
<rect x="1063" y="494" width="1" height="73" fill="#4682B4"/>
<rect x="1067" y="494" width="1" height="73" fill="#4682B4"/>
<rect x="1071" y="494" width="1" height="73" fill="#4682B4"/>
<rect x="1074" y="493" width="3" height="73" fill="#4682B4"/>
<rect x="1079" y="494" width="1" height="73" fill="#4682B4"/>
<rect x="1083" y="494" width="1" height="73" fill="#4682B4"/>
<rect x="1087" y="494" width="1" height="73" fill="#4682B4"/>
<rect x="1091" y="494" width="1" height="73" fill="#4682B4"/>
<rect x="1095" y="494" width="1" height="73" fill="#4682B4"/>
<rect x="1098" y="493" width="3" height="73" fill="#FF0000"/>
<rect x="1102" y="493" width="3" height="73" fill="#FF0000"/>
<rect x="1106" y="493" width="3" height="73" fill="#FF0000"/>
<rect x="2" y="2" width="1392" height="1" fill="#000"/>
<rect x="2" y="402" width="1392" height="1" fill="#000"/>
<rect x="2" y="2" width="1" height="401" fill="#000"/>
<rect x="1393" y="2" width="1" height="401" fill="#000"/>
<rect x="2" y="404" width="1392" height="1" fill="#000"/>
<rect x="2" y="490" width="1392" height="1" fill="#000"/>
<rect x="2" y="404" width="1" height="87" fill="#000"/>
<rect x="1393" y="404" width="1" height="87" fill="#000"/>
<rect x="2" y="492" width="1392" height="1" fill="#000"/>
<rect x="2" y="567" width="1392" height="1" fill="#000"/>
<rect x="2" y="492" width="1" height="76" fill="#000"/>
<rect x="1393" y="492" width="1" height="76" fill="#000"/>
<polygon points="6,9 13,9 9.5,13" fill="#000"/>
<text x="18" y="14" fill="#000" stroke="#000" stroke-width="0.15" font-size="9.5" textLength="54" lengthAdjust="spacingAndGlyphs">XAUUSD,H1</text>
<text x="78.5" y="14" fill="#000" stroke="#000" stroke-width="0.15" font-size="9.5" textLength="32" lengthAdjust="spacingAndGlyphs">1315.74</text>
<text x="114.5" y="14" fill="#000" stroke="#000" stroke-width="0.15" font-size="9.5" textLength="32.5" lengthAdjust="spacingAndGlyphs">1318.19</text>
<text x="150.5" y="14" fill="#000" stroke="#000" stroke-width="0.15" font-size="9.5" textLength="32" lengthAdjust="spacingAndGlyphs">1315.71</text>
<text x="186.5" y="14" fill="#000" stroke="#000" stroke-width="0.15" font-size="9.5" textLength="32" lengthAdjust="spacingAndGlyphs">1317.31</text>
<text x="7" y="417" fill="#000" stroke="#000" stroke-width="0.15" font-size="9.5" textLength="50" lengthAdjust="spacingAndGlyphs">Stoch(5,3,3)</text>
<text x="60.5" y="417" fill="#000" stroke="#000" stroke-width="0.15" font-size="9.5" textLength="31.5" lengthAdjust="spacingAndGlyphs">14.9331</text>
<text x="96" y="417" fill="#000" stroke="#000" stroke-width="0.15" font-size="9.5" textLength="27.5" lengthAdjust="spacingAndGlyphs">9.9845</text>
<text x="8" y="505" fill="#000" stroke="#000" stroke-width="0.15" font-size="9.5" textLength="105" lengthAdjust="spacingAndGlyphs">Flat Trend V3(Period_H1)</text>
<rect x="1394" y="36" width="2" height="1" fill="#000"/>
<text x="1399.5" y="40" fill="#000" stroke="#000" stroke-width="0.15" font-size="9.5" textLength="32.5" lengthAdjust="spacingAndGlyphs">1348.15</text>
<rect x="1394" y="69" width="2" height="1" fill="#000"/>
<text x="1399.5" y="73" fill="#000" stroke="#000" stroke-width="0.15" font-size="9.5" textLength="32.5" lengthAdjust="spacingAndGlyphs">1343.05</text>
<rect x="1394" y="102" width="2" height="1" fill="#000"/>
<text x="1399.5" y="106" fill="#000" stroke="#000" stroke-width="0.15" font-size="9.5" textLength="32.5" lengthAdjust="spacingAndGlyphs">1337.95</text>
<rect x="1394" y="135" width="2" height="1" fill="#000"/>
<text x="1399.5" y="139" fill="#000" stroke="#000" stroke-width="0.15" font-size="9.5" textLength="32.5" lengthAdjust="spacingAndGlyphs">1332.85</text>
<rect x="1394" y="168" width="2" height="1" fill="#000"/>
<text x="1399.5" y="172" fill="#000" stroke="#000" stroke-width="0.15" font-size="9.5" textLength="32.5" lengthAdjust="spacingAndGlyphs">1327.75</text>
<rect x="1394" y="201" width="2" height="1" fill="#000"/>
<text x="1399.5" y="205" fill="#000" stroke="#000" stroke-width="0.15" font-size="9.5" textLength="32.5" lengthAdjust="spacingAndGlyphs">1322.65</text>
<rect x="1394" y="234" width="2" height="1" fill="#000"/>
<text x="1399.5" y="238" fill="#000" stroke="#000" stroke-width="0.15" font-size="9.5" textLength="32.5" lengthAdjust="spacingAndGlyphs">1317.55</text>
<rect x="1394" y="267" width="2" height="1" fill="#000"/>
<text x="1399.5" y="271" fill="#000" stroke="#000" stroke-width="0.15" font-size="9.5" textLength="32.5" lengthAdjust="spacingAndGlyphs">1312.45</text>
<rect x="1394" y="300" width="2" height="1" fill="#000"/>
<text x="1399.5" y="304" fill="#000" stroke="#000" stroke-width="0.15" font-size="9.5" textLength="32.5" lengthAdjust="spacingAndGlyphs">1307.35</text>
<rect x="1394" y="333" width="2" height="1" fill="#000"/>
<text x="1399.5" y="337" fill="#000" stroke="#000" stroke-width="0.15" font-size="9.5" textLength="32.5" lengthAdjust="spacingAndGlyphs">1302.25</text>
<rect x="1394" y="366" width="2" height="1" fill="#000"/>
<text x="1399.5" y="370" fill="#000" stroke="#000" stroke-width="0.15" font-size="9.5" textLength="32.5" lengthAdjust="spacingAndGlyphs">1297.15</text>
<rect x="1394" y="399" width="2" height="1" fill="#000"/>
<text x="1399.5" y="403" fill="#000" stroke="#000" stroke-width="0.15" font-size="9.5" textLength="32.5" lengthAdjust="spacingAndGlyphs">1292.05</text>
<text x="1397" y="415" fill="#000" stroke="#000" stroke-width="0.15" font-size="9.5" textLength="17" lengthAdjust="spacingAndGlyphs">100</text>
<text x="1396" y="426" fill="#000" stroke="#000" stroke-width="0.15" font-size="9.5" textLength="11" lengthAdjust="spacingAndGlyphs">80</text>
<text x="1396" y="477" fill="#000" stroke="#000" stroke-width="0.15" font-size="9.5" textLength="11" lengthAdjust="spacingAndGlyphs">20</text>
<text x="1397" y="487" fill="#000" stroke="#000" stroke-width="0.15" font-size="9.5" textLength="5.5" lengthAdjust="spacingAndGlyphs">0</text>
<rect x="1394" y="404" width="2" height="1" fill="#000"/>
<rect x="1394" y="490" width="2" height="1" fill="#000"/>
<text x="1397" y="503" fill="#000" stroke="#000" stroke-width="0.15" font-size="9.5" textLength="5" lengthAdjust="spacingAndGlyphs">1</text>
<text x="1397" y="564" fill="#000" stroke="#000" stroke-width="0.15" font-size="9.5" textLength="5.5" lengthAdjust="spacingAndGlyphs">0</text>
<rect x="1395" y="89" width="41" height="11" fill="#4682B4"/>
<text x="1399.5" y="98" fill="#fff" stroke="#fff" stroke-width="0.15" font-size="9.5" textLength="32.5" lengthAdjust="spacingAndGlyphs">1339.00</text>
<rect x="1395" y="134" width="41" height="11" fill="#4682B4"/>
<text x="1399.5" y="143" fill="#fff" stroke="#fff" stroke-width="0.15" font-size="9.5" textLength="32.5" lengthAdjust="spacingAndGlyphs">1332.00</text>
<rect x="1395" y="179" width="41" height="11" fill="#4682B4"/>
<text x="1399.5" y="188" fill="#fff" stroke="#fff" stroke-width="0.15" font-size="9.5" textLength="32.5" lengthAdjust="spacingAndGlyphs">1325.00</text>
<rect x="1395" y="218" width="41" height="11" fill="#000"/>
<text x="1399.5" y="227" fill="#fff" stroke="#fff" stroke-width="0.15" font-size="9.5" textLength="32.5" lengthAdjust="spacingAndGlyphs">1319.00</text>
<rect x="1395" y="230" width="41" height="11" fill="#000"/>
<text x="1399.5" y="239" fill="#fff" stroke="#fff" stroke-width="0.15" font-size="9.5" textLength="32.5" lengthAdjust="spacingAndGlyphs">1317.31</text>
<rect x="1395" y="263" width="41" height="11" fill="#FF0000"/>
<text x="1399.5" y="272" fill="#fff" stroke="#fff" stroke-width="0.15" font-size="9.5" textLength="32.5" lengthAdjust="spacingAndGlyphs">1312.00</text>
<rect x="1395" y="309" width="41" height="11" fill="#FF0000"/>
<text x="1399.5" y="318" fill="#fff" stroke="#fff" stroke-width="0.15" font-size="9.5" textLength="32.5" lengthAdjust="spacingAndGlyphs">1305.00</text>
<rect x="1395" y="341" width="41" height="11" fill="#FF0000"/>
<text x="1399.5" y="350" fill="#fff" stroke="#fff" stroke-width="0.15" font-size="9.5" textLength="32.5" lengthAdjust="spacingAndGlyphs">1300.00</text>
<text x="1379" y="323" fill="#DC143C" stroke="#DC143C" stroke-width="0.15" font-size="9.5" textLength="12.5" lengthAdjust="spacingAndGlyphs">0.0</text>
<rect x="3" y="568" width="1" height="3" fill="#000"/>
<text x="2.5" y="580" fill="#000" stroke="#000" stroke-width="0.15" font-size="9.5" textLength="51.5" lengthAdjust="spacingAndGlyphs">22 Feb 2018</text>
<rect x="67" y="568" width="1" height="3" fill="#000"/>
<text x="66.5" y="580" fill="#000" stroke="#000" stroke-width="0.15" font-size="9.5" textLength="54" lengthAdjust="spacingAndGlyphs">23 Feb 08:00</text>
<rect x="131" y="568" width="1" height="3" fill="#000"/>
<text x="130.5" y="580" fill="#000" stroke="#000" stroke-width="0.15" font-size="9.5" textLength="54" lengthAdjust="spacingAndGlyphs">26 Feb 01:00</text>
<rect x="195" y="568" width="1" height="3" fill="#000"/>
<text x="194.5" y="580" fill="#000" stroke="#000" stroke-width="0.15" font-size="9.5" textLength="54" lengthAdjust="spacingAndGlyphs">26 Feb 17:00</text>
<rect x="259" y="568" width="1" height="3" fill="#000"/>
<text x="258.5" y="580" fill="#000" stroke="#000" stroke-width="0.15" font-size="9.5" textLength="54" lengthAdjust="spacingAndGlyphs">27 Feb 10:00</text>
<rect x="323" y="568" width="1" height="3" fill="#000"/>
<text x="322.5" y="580" fill="#000" stroke="#000" stroke-width="0.15" font-size="9.5" textLength="54" lengthAdjust="spacingAndGlyphs">28 Feb 03:00</text>
<rect x="387" y="568" width="1" height="3" fill="#000"/>
<text x="386.5" y="580" fill="#000" stroke="#000" stroke-width="0.15" font-size="9.5" textLength="54" lengthAdjust="spacingAndGlyphs">28 Feb 19:00</text>
<rect x="451" y="568" width="1" height="3" fill="#000"/>
<text x="450.5" y="580" fill="#000" stroke="#000" stroke-width="0.15" font-size="9.5" textLength="48.5" lengthAdjust="spacingAndGlyphs">1 Mar 12:00</text>
<rect x="515" y="568" width="1" height="3" fill="#000"/>
<text x="514.5" y="580" fill="#000" stroke="#000" stroke-width="0.15" font-size="9.5" textLength="48.5" lengthAdjust="spacingAndGlyphs">2 Mar 05:00</text>
<rect x="579" y="568" width="1" height="3" fill="#000"/>
<text x="578.5" y="580" fill="#000" stroke="#000" stroke-width="0.15" font-size="9.5" textLength="48.5" lengthAdjust="spacingAndGlyphs">2 Mar 21:00</text>
<rect x="643" y="568" width="1" height="3" fill="#000"/>
<text x="642.5" y="580" fill="#000" stroke="#000" stroke-width="0.15" font-size="9.5" textLength="48.5" lengthAdjust="spacingAndGlyphs">5 Mar 14:00</text>
<rect x="707" y="568" width="1" height="3" fill="#000"/>
<text x="706.5" y="580" fill="#000" stroke="#000" stroke-width="0.15" font-size="9.5" textLength="48.5" lengthAdjust="spacingAndGlyphs">6 Mar 07:00</text>
<rect x="771" y="568" width="1" height="3" fill="#000"/>
<text x="770.5" y="580" fill="#000" stroke="#000" stroke-width="0.15" font-size="9.5" textLength="48.5" lengthAdjust="spacingAndGlyphs">6 Mar 23:00</text>
<rect x="835" y="568" width="1" height="3" fill="#000"/>
<text x="834.5" y="580" fill="#000" stroke="#000" stroke-width="0.15" font-size="9.5" textLength="48.5" lengthAdjust="spacingAndGlyphs">7 Mar 16:00</text>
<rect x="899" y="568" width="1" height="3" fill="#000"/>
<text x="898.5" y="580" fill="#000" stroke="#000" stroke-width="0.15" font-size="9.5" textLength="48.5" lengthAdjust="spacingAndGlyphs">8 Mar 09:00</text>
<rect x="963" y="568" width="1" height="3" fill="#000"/>
<text x="962.5" y="580" fill="#000" stroke="#000" stroke-width="0.15" font-size="9.5" textLength="48.5" lengthAdjust="spacingAndGlyphs">9 Mar 02:00</text>
<rect x="1027" y="568" width="1" height="3" fill="#000"/>
<text x="1026.5" y="580" fill="#000" stroke="#000" stroke-width="0.15" font-size="9.5" textLength="48.5" lengthAdjust="spacingAndGlyphs">9 Mar 18:00</text>
<rect x="1091" y="568" width="1" height="3" fill="#000"/>
<text x="1090.5" y="580" fill="#000" stroke="#000" stroke-width="0.15" font-size="9.5" textLength="54" lengthAdjust="spacingAndGlyphs">12 Mar 10:00</text>
</svg>
</body></html>
